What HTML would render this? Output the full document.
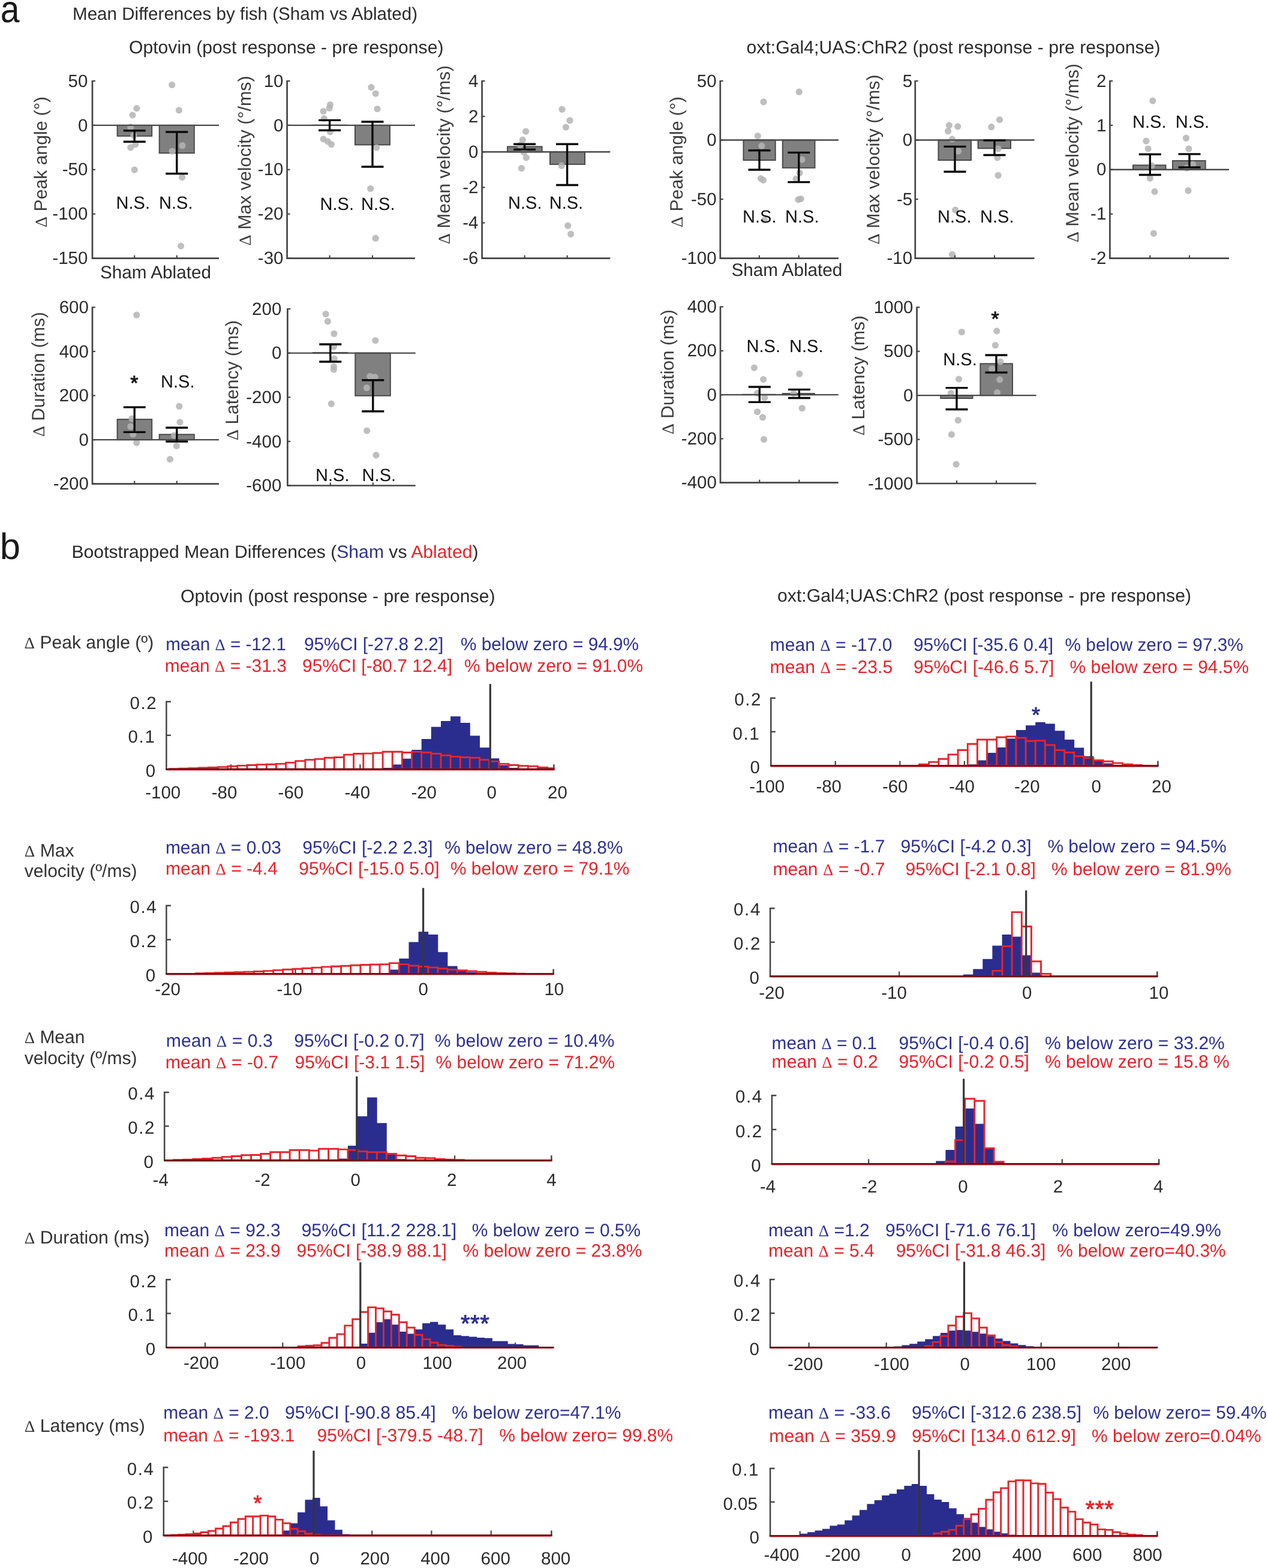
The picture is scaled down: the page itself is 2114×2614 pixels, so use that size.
<!DOCTYPE html>
<html lang="en">
<head>
<meta charset="utf-8">
<title>Mean differences by fish and bootstrapped mean differences (Sham vs Ablated)</title>
<style>
html,body{margin:0;padding:0;background:#fff;}
body{width:2114px;height:2614px;overflow:hidden;}
svg{display:block;}
</style>
</head>
<body>
<svg width="2114" height="2614" viewBox="0 0 2114 2614" font-family='"Liberation Sans", Arial, Helvetica, sans-serif' text-rendering="geometricPrecision">
<rect width="2114" height="2614" fill="#ffffff"/>
<g>
<text x="0.8" y="36.9" font-size="63" fill="#1a1a1a" textLength="31.8" lengthAdjust="spacingAndGlyphs">a</text>
<text x="121.0" y="33.0" font-size="29.6" fill="#2b2b2b" textLength="575.0" lengthAdjust="spacingAndGlyphs">Mean Differences by fish (Sham vs Ablated)</text>
<text x="215.0" y="88.7" font-size="30" fill="#2b2b2b" textLength="524.5" lengthAdjust="spacingAndGlyphs">Optovin (post response - pre response)</text>
<text x="1244.5" y="88.7" font-size="30" fill="#2b2b2b" textLength="690.0" lengthAdjust="spacingAndGlyphs">oxt:Gal4;UAS:ChR2 (post response - pre response)</text>
<text x="-0.3" y="931.8" font-size="61.5" fill="#1a1a1a">b</text>
<text x="119.5" y="929.5" font-size="29.6" fill="#2b2b2b" textLength="678.0" lengthAdjust="spacingAndGlyphs">Bootstrapped Mean Differences (<tspan fill="#2e3192">Sham</tspan> vs <tspan fill="#e8232b">Ablated</tspan>)</text>
<text x="301.0" y="1003.5" font-size="30" fill="#2b2b2b" textLength="524.5" lengthAdjust="spacingAndGlyphs">Optovin (post response - pre response)</text>
<text x="1296.0" y="1002.5" font-size="30" fill="#2b2b2b" textLength="690.0" lengthAdjust="spacingAndGlyphs">oxt:Gal4;UAS:ChR2 (post response - pre response)</text>
<g>
<rect x="195.6" y="208.9" width="57.6" height="17.9" fill="#808080" stroke="#4a4a4a" stroke-width="2"/>
<rect x="265.7" y="208.9" width="58.1" height="46.3" fill="#808080" stroke="#4a4a4a" stroke-width="2"/>
<g fill="#b4b4b4" fill-opacity="0.86"><circle cx="227.8" cy="180.6" r="5.6"/><circle cx="221.0" cy="191.9" r="5.6"/><circle cx="217.7" cy="211.7" r="5.6"/><circle cx="223.0" cy="225.8" r="5.6"/><circle cx="225.8" cy="240.7" r="5.6"/><circle cx="217.7" cy="246.0" r="5.6"/><circle cx="224.2" cy="283.1" r="5.6"/><circle cx="286.7" cy="141.5" r="5.6"/><circle cx="298.4" cy="183.9" r="5.6"/><circle cx="304.0" cy="242.7" r="5.6"/><circle cx="287.1" cy="252.0" r="5.6"/><circle cx="303.6" cy="295.6" r="5.6"/><circle cx="301.6" cy="410.1" r="5.6"/></g>
<line x1="154.4" y1="208.9" x2="365.0" y2="208.9" stroke="#4a4a4a" stroke-width="2.4" stroke-linecap="butt"/>
<path d="M154.0 134.0V430.6H365.0" fill="none" stroke="#454545" stroke-width="2.7"/>
<line x1="154.4" y1="135.0" x2="158.9" y2="135.0" stroke="#454545" stroke-width="2.2" stroke-linecap="butt"/>
<text x="146.4" y="144.6" font-size="29.5" fill="#2b2b2b" text-anchor="end">50</text>
<line x1="154.4" y1="208.9" x2="158.9" y2="208.9" stroke="#454545" stroke-width="2.2" stroke-linecap="butt"/>
<text x="146.4" y="218.5" font-size="29.5" fill="#2b2b2b" text-anchor="end">0</text>
<line x1="154.4" y1="282.8" x2="158.9" y2="282.8" stroke="#454545" stroke-width="2.2" stroke-linecap="butt"/>
<text x="146.4" y="292.4" font-size="29.5" fill="#2b2b2b" text-anchor="end">-50</text>
<line x1="154.4" y1="356.7" x2="158.9" y2="356.7" stroke="#454545" stroke-width="2.2" stroke-linecap="butt"/>
<text x="146.4" y="366.3" font-size="29.5" fill="#2b2b2b" text-anchor="end">-100</text>
<line x1="154.4" y1="430.6" x2="158.9" y2="430.6" stroke="#454545" stroke-width="2.2" stroke-linecap="butt"/>
<text x="146.4" y="440.2" font-size="29.5" fill="#2b2b2b" text-anchor="end">-150</text>
<line x1="224.2" y1="430.6" x2="224.2" y2="425.6" stroke="#454545" stroke-width="2.2" stroke-linecap="butt"/>
<line x1="294.8" y1="430.6" x2="294.8" y2="425.6" stroke="#454545" stroke-width="2.2" stroke-linecap="butt"/>
<path d="M205.7 217.7H242.7M205.7 236.3H242.7M224.2 217.7V236.3" fill="none" stroke="#0a0a0a" stroke-width="3.4"/>
<path d="M276.3 220.0H313.3M276.3 289.5H313.3M294.8 220.0V289.5" fill="none" stroke="#0a0a0a" stroke-width="3.4"/>
<text x="193.5" y="347.6" font-size="29.5" fill="#111" textLength="56.5" lengthAdjust="spacingAndGlyphs">N.S.</text>
<text x="265.0" y="347.6" font-size="29.5" fill="#111" textLength="56.5" lengthAdjust="spacingAndGlyphs">N.S.</text>
<text x="78.0" y="270.0" font-size="30" fill="#3c3c3c" text-anchor="middle" textLength="218.0" lengthAdjust="spacingAndGlyphs" transform="rotate(-90 78.0 270.0)"><tspan font-family='"Liberation Serif", "DejaVu Serif", serif' font-size="28">&#916;</tspan> Peak angle (°)</text>
<text x="167.0" y="463.7" font-size="29.7" fill="#2b2b2b" textLength="185.0" lengthAdjust="spacingAndGlyphs">Sham Ablated</text>
</g>
<g>
<rect x="520.0" y="208.7" width="58.6" height="0.2" fill="#808080" stroke="#4a4a4a" stroke-width="2"/>
<rect x="592.0" y="208.9" width="58.0" height="32.5" fill="#808080" stroke="#4a4a4a" stroke-width="2"/>
<g fill="#b4b4b4" fill-opacity="0.86"><circle cx="550.4" cy="174.6" r="5.6"/><circle cx="549.2" cy="180.2" r="5.6"/><circle cx="539.1" cy="185.5" r="5.6"/><circle cx="540.3" cy="197.6" r="5.6"/><circle cx="539.1" cy="231.9" r="5.6"/><circle cx="546.4" cy="235.9" r="5.6"/><circle cx="552.4" cy="240.7" r="5.6"/><circle cx="550.4" cy="219.8" r="5.6"/><circle cx="619.0" cy="145.6" r="5.6"/><circle cx="626.2" cy="156.0" r="5.6"/><circle cx="629.0" cy="181.5" r="5.6"/><circle cx="627.8" cy="246.0" r="5.6"/><circle cx="617.7" cy="314.5" r="5.6"/><circle cx="626.2" cy="397.2" r="5.6"/></g>
<line x1="479.0" y1="208.9" x2="692.0" y2="208.9" stroke="#4a4a4a" stroke-width="2.4" stroke-linecap="butt"/>
<path d="M478.6 134.0V430.6H692.0" fill="none" stroke="#454545" stroke-width="2.7"/>
<line x1="479.0" y1="135.0" x2="483.5" y2="135.0" stroke="#454545" stroke-width="2.2" stroke-linecap="butt"/>
<text x="472.5" y="144.6" font-size="29.5" fill="#2b2b2b" text-anchor="end">10</text>
<line x1="479.0" y1="208.9" x2="483.5" y2="208.9" stroke="#454545" stroke-width="2.2" stroke-linecap="butt"/>
<text x="472.5" y="218.5" font-size="29.5" fill="#2b2b2b" text-anchor="end">0</text>
<line x1="479.0" y1="282.8" x2="483.5" y2="282.8" stroke="#454545" stroke-width="2.2" stroke-linecap="butt"/>
<text x="472.5" y="292.4" font-size="29.5" fill="#2b2b2b" text-anchor="end">-10</text>
<line x1="479.0" y1="356.7" x2="483.5" y2="356.7" stroke="#454545" stroke-width="2.2" stroke-linecap="butt"/>
<text x="472.5" y="366.3" font-size="29.5" fill="#2b2b2b" text-anchor="end">-20</text>
<line x1="479.0" y1="430.6" x2="483.5" y2="430.6" stroke="#454545" stroke-width="2.2" stroke-linecap="butt"/>
<text x="472.5" y="440.2" font-size="29.5" fill="#2b2b2b" text-anchor="end">-30</text>
<line x1="549.6" y1="430.6" x2="549.6" y2="425.6" stroke="#454545" stroke-width="2.2" stroke-linecap="butt"/>
<line x1="621.0" y1="430.6" x2="621.0" y2="425.6" stroke="#454545" stroke-width="2.2" stroke-linecap="butt"/>
<path d="M531.1 200.4H568.1M531.1 217.3H568.1M549.6 200.4V217.3" fill="none" stroke="#0a0a0a" stroke-width="3.4"/>
<path d="M602.5 203.0H639.5M602.5 278.0H639.5M621.0 203.0V278.0" fill="none" stroke="#0a0a0a" stroke-width="3.4"/>
<text x="533.5" y="349.5" font-size="29.5" fill="#111" textLength="56.5" lengthAdjust="spacingAndGlyphs">N.S.</text>
<text x="602.0" y="349.5" font-size="29.5" fill="#111" textLength="56.5" lengthAdjust="spacingAndGlyphs">N.S.</text>
<text x="417.5" y="268.0" font-size="30" fill="#3c3c3c" text-anchor="middle" textLength="283.0" lengthAdjust="spacingAndGlyphs" transform="rotate(-90 417.5 268.0)"><tspan font-family='"Liberation Serif", "DejaVu Serif", serif' font-size="28">&#916;</tspan> Max velocity (°/ms)</text>
</g>
<g>
<rect x="846.0" y="244.4" width="57.6" height="8.9" fill="#808080" stroke="#4a4a4a" stroke-width="2"/>
<rect x="917.0" y="253.2" width="58.0" height="20.7" fill="#808080" stroke="#4a4a4a" stroke-width="2"/>
<g fill="#b4b4b4" fill-opacity="0.86"><circle cx="876.6" cy="219.0" r="5.6"/><circle cx="871.4" cy="233.1" r="5.6"/><circle cx="867.3" cy="241.9" r="5.6"/><circle cx="877.4" cy="262.9" r="5.6"/><circle cx="869.4" cy="280.6" r="5.6"/><circle cx="873.4" cy="254.0" r="5.6"/><circle cx="937.1" cy="182.3" r="5.6"/><circle cx="950.0" cy="200.8" r="5.6"/><circle cx="943.5" cy="212.1" r="5.6"/><circle cx="936.3" cy="276.2" r="5.6"/><circle cx="946.8" cy="376.2" r="5.6"/><circle cx="951.6" cy="390.3" r="5.6"/></g>
<line x1="804.0" y1="253.2" x2="1017.3" y2="253.2" stroke="#4a4a4a" stroke-width="2.4" stroke-linecap="butt"/>
<path d="M803.6 134.0V430.6H1017.3" fill="none" stroke="#454545" stroke-width="2.7"/>
<line x1="804.0" y1="135.0" x2="808.5" y2="135.0" stroke="#454545" stroke-width="2.2" stroke-linecap="butt"/>
<text x="797.5" y="144.6" font-size="29.5" fill="#2b2b2b" text-anchor="end">4</text>
<line x1="804.0" y1="194.1" x2="808.5" y2="194.1" stroke="#454545" stroke-width="2.2" stroke-linecap="butt"/>
<text x="797.5" y="203.7" font-size="29.5" fill="#2b2b2b" text-anchor="end">2</text>
<line x1="804.0" y1="253.2" x2="808.5" y2="253.2" stroke="#454545" stroke-width="2.2" stroke-linecap="butt"/>
<text x="797.5" y="262.8" font-size="29.5" fill="#2b2b2b" text-anchor="end">0</text>
<line x1="804.0" y1="312.4" x2="808.5" y2="312.4" stroke="#454545" stroke-width="2.2" stroke-linecap="butt"/>
<text x="797.5" y="322.0" font-size="29.5" fill="#2b2b2b" text-anchor="end">-2</text>
<line x1="804.0" y1="371.5" x2="808.5" y2="371.5" stroke="#454545" stroke-width="2.2" stroke-linecap="butt"/>
<text x="797.5" y="381.1" font-size="29.5" fill="#2b2b2b" text-anchor="end">-4</text>
<line x1="804.0" y1="430.6" x2="808.5" y2="430.6" stroke="#454545" stroke-width="2.2" stroke-linecap="butt"/>
<text x="797.5" y="440.2" font-size="29.5" fill="#2b2b2b" text-anchor="end">-6</text>
<line x1="874.6" y1="430.6" x2="874.6" y2="425.6" stroke="#454545" stroke-width="2.2" stroke-linecap="butt"/>
<line x1="945.6" y1="430.6" x2="945.6" y2="425.6" stroke="#454545" stroke-width="2.2" stroke-linecap="butt"/>
<path d="M856.1 240.3H893.1M856.1 249.2H893.1M874.6 240.3V249.2" fill="none" stroke="#0a0a0a" stroke-width="3.4"/>
<path d="M927.1 240.3H964.1M927.1 308.5H964.1M945.6 240.3V308.5" fill="none" stroke="#0a0a0a" stroke-width="3.4"/>
<text x="847.0" y="347.6" font-size="29.5" fill="#111" textLength="56.5" lengthAdjust="spacingAndGlyphs">N.S.</text>
<text x="915.7" y="347.6" font-size="29.5" fill="#111" textLength="56.5" lengthAdjust="spacingAndGlyphs">N.S.</text>
<text x="749.5" y="258.0" font-size="30" fill="#3c3c3c" text-anchor="middle" textLength="298.0" lengthAdjust="spacingAndGlyphs" transform="rotate(-90 749.5 258.0)"><tspan font-family='"Liberation Serif", "DejaVu Serif", serif' font-size="28">&#916;</tspan> Mean velocity (°/ms)</text>
</g>
<g>
<rect x="1239.5" y="233.5" width="53.2" height="33.5" fill="#808080" stroke="#4a4a4a" stroke-width="2"/>
<rect x="1304.8" y="233.5" width="53.7" height="46.3" fill="#808080" stroke="#4a4a4a" stroke-width="2"/>
<g fill="#b4b4b4" fill-opacity="0.86"><circle cx="1273.0" cy="169.8" r="5.6"/><circle cx="1263.3" cy="226.6" r="5.6"/><circle cx="1269.8" cy="243.1" r="5.6"/><circle cx="1268.5" cy="297.6" r="5.6"/><circle cx="1272.6" cy="300.4" r="5.6"/><circle cx="1274.6" cy="366.9" r="5.6"/><circle cx="1332.3" cy="153.2" r="5.6"/><circle cx="1337.1" cy="266.1" r="5.6"/><circle cx="1327.0" cy="298.4" r="5.6"/><circle cx="1331.0" cy="332.7" r="5.6"/><circle cx="1335.1" cy="331.5" r="5.6"/><circle cx="1333.1" cy="288.3" r="5.6"/></g>
<line x1="1201.2" y1="233.5" x2="1398.0" y2="233.5" stroke="#4a4a4a" stroke-width="2.4" stroke-linecap="butt"/>
<path d="M1200.8 134.0V430.6H1398.0" fill="none" stroke="#454545" stroke-width="2.7"/>
<line x1="1201.2" y1="135.0" x2="1205.7" y2="135.0" stroke="#454545" stroke-width="2.2" stroke-linecap="butt"/>
<text x="1194.7" y="144.6" font-size="29.5" fill="#2b2b2b" text-anchor="end">50</text>
<line x1="1201.2" y1="233.5" x2="1205.7" y2="233.5" stroke="#454545" stroke-width="2.2" stroke-linecap="butt"/>
<text x="1194.7" y="243.1" font-size="29.5" fill="#2b2b2b" text-anchor="end">0</text>
<line x1="1201.2" y1="332.1" x2="1205.7" y2="332.1" stroke="#454545" stroke-width="2.2" stroke-linecap="butt"/>
<text x="1194.7" y="341.7" font-size="29.5" fill="#2b2b2b" text-anchor="end">-50</text>
<line x1="1201.2" y1="430.6" x2="1205.7" y2="430.6" stroke="#454545" stroke-width="2.2" stroke-linecap="butt"/>
<text x="1194.7" y="440.2" font-size="29.5" fill="#2b2b2b" text-anchor="end">-100</text>
<line x1="1266.0" y1="430.6" x2="1266.0" y2="425.6" stroke="#454545" stroke-width="2.2" stroke-linecap="butt"/>
<line x1="1331.8" y1="430.6" x2="1331.8" y2="425.6" stroke="#454545" stroke-width="2.2" stroke-linecap="butt"/>
<path d="M1247.5 250.8H1284.5M1247.5 283.0H1284.5M1266.0 250.8V283.0" fill="none" stroke="#0a0a0a" stroke-width="3.4"/>
<path d="M1313.3 254.4H1350.3M1313.3 303.6H1350.3M1331.8 254.4V303.6" fill="none" stroke="#0a0a0a" stroke-width="3.4"/>
<text x="1238.0" y="371.0" font-size="29.5" fill="#111" textLength="56.5" lengthAdjust="spacingAndGlyphs">N.S.</text>
<text x="1309.0" y="371.0" font-size="29.5" fill="#111" textLength="56.5" lengthAdjust="spacingAndGlyphs">N.S.</text>
<text x="1137.5" y="270.0" font-size="30" fill="#3c3c3c" text-anchor="middle" textLength="218.0" lengthAdjust="spacingAndGlyphs" transform="rotate(-90 1137.5 270.0)"><tspan font-family='"Liberation Serif", "DejaVu Serif", serif' font-size="28">&#916;</tspan> Peak angle (°)</text>
<text x="1219.4" y="459.7" font-size="29.7" fill="#2b2b2b" textLength="185.0" lengthAdjust="spacingAndGlyphs">Sham Ablated</text>
</g>
<g>
<rect x="1564.5" y="233.5" width="54.5" height="33.5" fill="#808080" stroke="#4a4a4a" stroke-width="2"/>
<rect x="1630.6" y="233.5" width="54.4" height="13.8" fill="#808080" stroke="#4a4a4a" stroke-width="2"/>
<g fill="#b4b4b4" fill-opacity="0.86"><circle cx="1582.3" cy="208.9" r="5.6"/><circle cx="1596.8" cy="210.9" r="5.6"/><circle cx="1580.6" cy="218.5" r="5.6"/><circle cx="1587.5" cy="231.9" r="5.6"/><circle cx="1597.6" cy="252.0" r="5.6"/><circle cx="1592.7" cy="350.0" r="5.6"/><circle cx="1587.5" cy="424.2" r="5.6"/><circle cx="1666.5" cy="199.6" r="5.6"/><circle cx="1652.8" cy="211.7" r="5.6"/><circle cx="1664.1" cy="248.0" r="5.6"/><circle cx="1662.9" cy="262.9" r="5.6"/><circle cx="1664.1" cy="292.3" r="5.6"/></g>
<line x1="1526.2" y1="233.5" x2="1724.6" y2="233.5" stroke="#4a4a4a" stroke-width="2.4" stroke-linecap="butt"/>
<path d="M1525.8 134.0V430.6H1724.6" fill="none" stroke="#454545" stroke-width="2.7"/>
<line x1="1526.2" y1="135.0" x2="1530.7" y2="135.0" stroke="#454545" stroke-width="2.2" stroke-linecap="butt"/>
<text x="1521.2" y="144.6" font-size="29.5" fill="#2b2b2b" text-anchor="end">5</text>
<line x1="1526.2" y1="233.5" x2="1530.7" y2="233.5" stroke="#454545" stroke-width="2.2" stroke-linecap="butt"/>
<text x="1521.2" y="243.1" font-size="29.5" fill="#2b2b2b" text-anchor="end">0</text>
<line x1="1526.2" y1="332.1" x2="1530.7" y2="332.1" stroke="#454545" stroke-width="2.2" stroke-linecap="butt"/>
<text x="1521.2" y="341.7" font-size="29.5" fill="#2b2b2b" text-anchor="end">-5</text>
<line x1="1526.2" y1="430.6" x2="1530.7" y2="430.6" stroke="#454545" stroke-width="2.2" stroke-linecap="butt"/>
<text x="1521.2" y="440.2" font-size="29.5" fill="#2b2b2b" text-anchor="end">-10</text>
<line x1="1592.0" y1="430.6" x2="1592.0" y2="425.6" stroke="#454545" stroke-width="2.2" stroke-linecap="butt"/>
<line x1="1658.0" y1="430.6" x2="1658.0" y2="425.6" stroke="#454545" stroke-width="2.2" stroke-linecap="butt"/>
<path d="M1573.5 244.4H1610.5M1573.5 286.3H1610.5M1592.0 244.4V286.3" fill="none" stroke="#0a0a0a" stroke-width="3.4"/>
<path d="M1639.5 234.0H1676.5M1639.5 258.5H1676.5M1658.0 234.0V258.5" fill="none" stroke="#0a0a0a" stroke-width="3.4"/>
<text x="1563.0" y="371.0" font-size="29.5" fill="#111" textLength="56.5" lengthAdjust="spacingAndGlyphs">N.S.</text>
<text x="1634.0" y="371.0" font-size="29.5" fill="#111" textLength="56.5" lengthAdjust="spacingAndGlyphs">N.S.</text>
<text x="1465.5" y="266.0" font-size="30" fill="#3c3c3c" text-anchor="middle" textLength="283.0" lengthAdjust="spacingAndGlyphs" transform="rotate(-90 1465.5 266.0)"><tspan font-family='"Liberation Serif", "DejaVu Serif", serif' font-size="28">&#916;</tspan> Max velocity (°/ms)</text>
</g>
<g>
<rect x="1889.0" y="275.4" width="54.5" height="7.4" fill="#808080" stroke="#4a4a4a" stroke-width="2"/>
<rect x="1955.0" y="268.0" width="54.7" height="14.8" fill="#808080" stroke="#4a4a4a" stroke-width="2"/>
<g fill="#b4b4b4" fill-opacity="0.86"><circle cx="1921.8" cy="168.1" r="5.6"/><circle cx="1910.9" cy="235.1" r="5.6"/><circle cx="1914.1" cy="248.0" r="5.6"/><circle cx="1920.2" cy="276.2" r="5.6"/><circle cx="1917.3" cy="297.2" r="5.6"/><circle cx="1925.0" cy="319.4" r="5.6"/><circle cx="1923.4" cy="389.1" r="5.6"/><circle cx="1977.4" cy="230.2" r="5.6"/><circle cx="1981.9" cy="248.0" r="5.6"/><circle cx="1988.7" cy="274.2" r="5.6"/><circle cx="1978.6" cy="280.2" r="5.6"/><circle cx="1981.0" cy="317.7" r="5.6"/></g>
<line x1="1850.8" y1="282.8" x2="2049.0" y2="282.8" stroke="#4a4a4a" stroke-width="2.4" stroke-linecap="butt"/>
<path d="M1850.4 134.0V430.6H2049.0" fill="none" stroke="#454545" stroke-width="2.7"/>
<line x1="1850.8" y1="135.0" x2="1855.3" y2="135.0" stroke="#454545" stroke-width="2.2" stroke-linecap="butt"/>
<text x="1844.3" y="144.6" font-size="29.5" fill="#2b2b2b" text-anchor="end">2</text>
<line x1="1850.8" y1="208.9" x2="1855.3" y2="208.9" stroke="#454545" stroke-width="2.2" stroke-linecap="butt"/>
<text x="1844.3" y="218.5" font-size="29.5" fill="#2b2b2b" text-anchor="end">1</text>
<line x1="1850.8" y1="282.8" x2="1855.3" y2="282.8" stroke="#454545" stroke-width="2.2" stroke-linecap="butt"/>
<text x="1844.3" y="292.4" font-size="29.5" fill="#2b2b2b" text-anchor="end">0</text>
<line x1="1850.8" y1="356.7" x2="1855.3" y2="356.7" stroke="#454545" stroke-width="2.2" stroke-linecap="butt"/>
<text x="1844.3" y="366.3" font-size="29.5" fill="#2b2b2b" text-anchor="end">-1</text>
<line x1="1850.8" y1="430.6" x2="1855.3" y2="430.6" stroke="#454545" stroke-width="2.2" stroke-linecap="butt"/>
<text x="1844.3" y="440.2" font-size="29.5" fill="#2b2b2b" text-anchor="end">-2</text>
<line x1="1917.3" y1="430.6" x2="1917.3" y2="425.6" stroke="#454545" stroke-width="2.2" stroke-linecap="butt"/>
<line x1="1983.0" y1="430.6" x2="1983.0" y2="425.6" stroke="#454545" stroke-width="2.2" stroke-linecap="butt"/>
<path d="M1898.8 257.3H1935.8M1898.8 291.5H1935.8M1917.3 257.3V291.5" fill="none" stroke="#0a0a0a" stroke-width="3.4"/>
<path d="M1964.5 256.9H2001.5M1964.5 279.0H2001.5M1983.0 256.9V279.0" fill="none" stroke="#0a0a0a" stroke-width="3.4"/>
<text x="1888.0" y="213.0" font-size="29.5" fill="#111" textLength="56.5" lengthAdjust="spacingAndGlyphs">N.S.</text>
<text x="1959.7" y="213.0" font-size="29.5" fill="#111" textLength="56.5" lengthAdjust="spacingAndGlyphs">N.S.</text>
<text x="1797.5" y="255.0" font-size="30" fill="#3c3c3c" text-anchor="middle" textLength="298.0" lengthAdjust="spacingAndGlyphs" transform="rotate(-90 1797.5 255.0)"><tspan font-family='"Liberation Serif", "DejaVu Serif", serif' font-size="28">&#916;</tspan> Mean velocity (°/ms)</text>
</g>
<g>
<rect x="195.6" y="699.1" width="57.6" height="34.0" fill="#808080" stroke="#4a4a4a" stroke-width="2"/>
<rect x="265.7" y="724.3" width="58.1" height="8.8" fill="#808080" stroke="#4a4a4a" stroke-width="2"/>
<g fill="#b4b4b4" fill-opacity="0.86"><circle cx="227.8" cy="525.2" r="5.6"/><circle cx="219.8" cy="697.8" r="5.6"/><circle cx="217.7" cy="711.1" r="5.6"/><circle cx="221.8" cy="724.0" r="5.6"/><circle cx="227.8" cy="738.1" r="5.6"/><circle cx="298.8" cy="677.3" r="5.6"/><circle cx="300.0" cy="703.9" r="5.6"/><circle cx="290.3" cy="726.0" r="5.6"/><circle cx="294.4" cy="743.4" r="5.6"/><circle cx="283.5" cy="765.6" r="5.6"/></g>
<line x1="154.4" y1="733.1" x2="365.0" y2="733.1" stroke="#4a4a4a" stroke-width="2.4" stroke-linecap="butt"/>
<path d="M154.0 511.3V806.7H365.0" fill="none" stroke="#454545" stroke-width="2.7"/>
<line x1="154.4" y1="512.3" x2="158.9" y2="512.3" stroke="#454545" stroke-width="2.2" stroke-linecap="butt"/>
<text x="147.9" y="521.9" font-size="29.5" fill="#2b2b2b" text-anchor="end">600</text>
<line x1="154.4" y1="585.9" x2="158.9" y2="585.9" stroke="#454545" stroke-width="2.2" stroke-linecap="butt"/>
<text x="147.9" y="595.5" font-size="29.5" fill="#2b2b2b" text-anchor="end">400</text>
<line x1="154.4" y1="659.5" x2="158.9" y2="659.5" stroke="#454545" stroke-width="2.2" stroke-linecap="butt"/>
<text x="147.9" y="669.1" font-size="29.5" fill="#2b2b2b" text-anchor="end">200</text>
<line x1="154.4" y1="733.1" x2="158.9" y2="733.1" stroke="#454545" stroke-width="2.2" stroke-linecap="butt"/>
<text x="147.9" y="742.7" font-size="29.5" fill="#2b2b2b" text-anchor="end">0</text>
<line x1="154.4" y1="806.7" x2="158.9" y2="806.7" stroke="#454545" stroke-width="2.2" stroke-linecap="butt"/>
<text x="147.9" y="816.3" font-size="29.5" fill="#2b2b2b" text-anchor="end">-200</text>
<line x1="224.2" y1="806.7" x2="224.2" y2="801.7" stroke="#454545" stroke-width="2.2" stroke-linecap="butt"/>
<line x1="294.8" y1="806.7" x2="294.8" y2="801.7" stroke="#454545" stroke-width="2.2" stroke-linecap="butt"/>
<path d="M205.7 678.9H242.7M205.7 720.4H242.7M224.2 678.9V720.4" fill="none" stroke="#0a0a0a" stroke-width="3.4"/>
<path d="M276.3 713.0H313.3M276.3 736.0H313.3M294.8 713.0V736.0" fill="none" stroke="#0a0a0a" stroke-width="3.4"/>
<text x="223.8" y="650.0" font-size="34" fill="#111" text-anchor="middle" stroke="#111" stroke-width="0.9">*</text>
<text x="268.0" y="645.8" font-size="29.5" fill="#111" textLength="56.5" lengthAdjust="spacingAndGlyphs">N.S.</text>
<text x="73.5" y="624.0" font-size="30" fill="#3c3c3c" text-anchor="middle" textLength="208.0" lengthAdjust="spacingAndGlyphs" transform="rotate(-90 73.5 624.0)"><tspan font-family='"Liberation Serif", "DejaVu Serif", serif' font-size="28">&#916;</tspan> Duration (ms)</text>
</g>
<g>
<rect x="522.0" y="587.9" width="57.4" height="0.7" fill="#808080" stroke="#4a4a4a" stroke-width="2"/>
<rect x="592.3" y="588.6" width="58.5" height="71.1" fill="#808080" stroke="#4a4a4a" stroke-width="2"/>
<g fill="#b4b4b4" fill-opacity="0.86"><circle cx="543.1" cy="523.6" r="5.6"/><circle cx="546.4" cy="535.7" r="5.6"/><circle cx="556.9" cy="556.3" r="5.6"/><circle cx="556.5" cy="578.1" r="5.6"/><circle cx="557.3" cy="598.2" r="5.6"/><circle cx="556.5" cy="611.1" r="5.6"/><circle cx="556.5" cy="616.0" r="5.6"/><circle cx="552.4" cy="673.2" r="5.6"/><circle cx="625.8" cy="567.6" r="5.6"/><circle cx="616.9" cy="627.3" r="5.6"/><circle cx="625.0" cy="628.5" r="5.6"/><circle cx="611.3" cy="646.6" r="5.6"/><circle cx="611.7" cy="718.0" r="5.6"/><circle cx="627.0" cy="758.7" r="5.6"/></g>
<line x1="479.8" y1="588.6" x2="692.7" y2="588.6" stroke="#4a4a4a" stroke-width="2.4" stroke-linecap="butt"/>
<path d="M479.4 514.0V809.5H692.7" fill="none" stroke="#454545" stroke-width="2.7"/>
<line x1="479.8" y1="515.0" x2="484.3" y2="515.0" stroke="#454545" stroke-width="2.2" stroke-linecap="butt"/>
<text x="469.3" y="524.6" font-size="29.5" fill="#2b2b2b" text-anchor="end">200</text>
<line x1="479.8" y1="588.6" x2="484.3" y2="588.6" stroke="#454545" stroke-width="2.2" stroke-linecap="butt"/>
<text x="469.3" y="598.2" font-size="29.5" fill="#2b2b2b" text-anchor="end">0</text>
<line x1="479.8" y1="662.2" x2="484.3" y2="662.2" stroke="#454545" stroke-width="2.2" stroke-linecap="butt"/>
<text x="469.3" y="671.9" font-size="29.5" fill="#2b2b2b" text-anchor="end">-200</text>
<line x1="479.8" y1="735.9" x2="484.3" y2="735.9" stroke="#454545" stroke-width="2.2" stroke-linecap="butt"/>
<text x="469.3" y="745.5" font-size="29.5" fill="#2b2b2b" text-anchor="end">-400</text>
<line x1="479.8" y1="809.5" x2="484.3" y2="809.5" stroke="#454545" stroke-width="2.2" stroke-linecap="butt"/>
<text x="469.3" y="819.1" font-size="29.5" fill="#2b2b2b" text-anchor="end">-600</text>
<line x1="550.8" y1="809.5" x2="550.8" y2="804.5" stroke="#454545" stroke-width="2.2" stroke-linecap="butt"/>
<line x1="621.8" y1="809.5" x2="621.8" y2="804.5" stroke="#454545" stroke-width="2.2" stroke-linecap="butt"/>
<path d="M532.3 574.0H569.3M532.3 603.0H569.3M550.8 574.0V603.0" fill="none" stroke="#0a0a0a" stroke-width="3.4"/>
<path d="M603.3 633.7H640.3M603.3 685.7H640.3M621.8 633.7V685.7" fill="none" stroke="#0a0a0a" stroke-width="3.4"/>
<text x="526.0" y="801.5" font-size="29.5" fill="#111" textLength="56.5" lengthAdjust="spacingAndGlyphs">N.S.</text>
<text x="603.6" y="801.5" font-size="29.5" fill="#111" textLength="56.5" lengthAdjust="spacingAndGlyphs">N.S.</text>
<text x="396.5" y="634.0" font-size="30" fill="#3c3c3c" text-anchor="middle" textLength="200.0" lengthAdjust="spacingAndGlyphs" transform="rotate(-90 396.5 634.0)"><tspan font-family='"Liberation Serif", "DejaVu Serif", serif' font-size="28">&#916;</tspan> Latency (ms)</text>
</g>
<g>
<rect x="1237.6" y="657.7" width="55.4" height="0.4" fill="#808080" stroke="#4a4a4a" stroke-width="2"/>
<rect x="1304.6" y="656.1" width="53.4" height="2.0" fill="#808080" stroke="#4a4a4a" stroke-width="2"/>
<g fill="#b4b4b4" fill-opacity="0.86"><circle cx="1257.4" cy="613.1" r="5.6"/><circle cx="1272.7" cy="632.5" r="5.6"/><circle cx="1262.6" cy="655.5" r="5.6"/><circle cx="1274.7" cy="662.7" r="5.6"/><circle cx="1262.6" cy="686.5" r="5.6"/><circle cx="1271.5" cy="695.8" r="5.6"/><circle cx="1273.5" cy="732.5" r="5.6"/><circle cx="1332.8" cy="623.2" r="5.6"/><circle cx="1323.1" cy="655.5" r="5.6"/><circle cx="1337.2" cy="680.5" r="5.6"/></g>
<line x1="1201.4" y1="658.1" x2="1397.7" y2="658.1" stroke="#4a4a4a" stroke-width="2.4" stroke-linecap="butt"/>
<path d="M1201.0 510.5V804.7H1397.7" fill="none" stroke="#454545" stroke-width="2.7"/>
<line x1="1201.4" y1="511.5" x2="1205.9" y2="511.5" stroke="#454545" stroke-width="2.2" stroke-linecap="butt"/>
<text x="1194.9" y="521.1" font-size="29.5" fill="#2b2b2b" text-anchor="end">400</text>
<line x1="1201.4" y1="584.8" x2="1205.9" y2="584.8" stroke="#454545" stroke-width="2.2" stroke-linecap="butt"/>
<text x="1194.9" y="594.4" font-size="29.5" fill="#2b2b2b" text-anchor="end">200</text>
<line x1="1201.4" y1="658.1" x2="1205.9" y2="658.1" stroke="#454545" stroke-width="2.2" stroke-linecap="butt"/>
<text x="1194.9" y="667.7" font-size="29.5" fill="#2b2b2b" text-anchor="end">0</text>
<line x1="1201.4" y1="731.4" x2="1205.9" y2="731.4" stroke="#454545" stroke-width="2.2" stroke-linecap="butt"/>
<text x="1194.9" y="741.0" font-size="29.5" fill="#2b2b2b" text-anchor="end">-200</text>
<line x1="1201.4" y1="804.7" x2="1205.9" y2="804.7" stroke="#454545" stroke-width="2.2" stroke-linecap="butt"/>
<text x="1194.9" y="814.3" font-size="29.5" fill="#2b2b2b" text-anchor="end">-400</text>
<line x1="1266.3" y1="804.7" x2="1266.3" y2="799.7" stroke="#454545" stroke-width="2.2" stroke-linecap="butt"/>
<line x1="1332.4" y1="804.7" x2="1332.4" y2="799.7" stroke="#454545" stroke-width="2.2" stroke-linecap="butt"/>
<path d="M1247.8 645.0H1284.8M1247.8 670.4H1284.8M1266.3 645.0V670.4" fill="none" stroke="#0a0a0a" stroke-width="3.4"/>
<path d="M1313.9 649.4H1350.9M1313.9 663.5H1350.9M1332.4 649.4V663.5" fill="none" stroke="#0a0a0a" stroke-width="3.4"/>
<text x="1244.5" y="587.0" font-size="29.5" fill="#111" textLength="56.5" lengthAdjust="spacingAndGlyphs">N.S.</text>
<text x="1316.0" y="587.0" font-size="29.5" fill="#111" textLength="56.5" lengthAdjust="spacingAndGlyphs">N.S.</text>
<text x="1122.5" y="620.0" font-size="30" fill="#3c3c3c" text-anchor="middle" textLength="208.0" lengthAdjust="spacingAndGlyphs" transform="rotate(-90 1122.5 620.0)"><tspan font-family='"Liberation Serif", "DejaVu Serif", serif' font-size="28">&#916;</tspan> Duration (ms)</text>
</g>
<g>
<rect x="1568.3" y="659.1" width="53.2" height="4.9" fill="#808080" stroke="#4a4a4a" stroke-width="2"/>
<rect x="1634.4" y="606.3" width="53.6" height="52.9" fill="#808080" stroke="#4a4a4a" stroke-width="2"/>
<g fill="#b4b4b4" fill-opacity="0.86"><circle cx="1603.4" cy="553.5" r="5.6"/><circle cx="1598.5" cy="632.1" r="5.6"/><circle cx="1585.2" cy="655.5" r="5.6"/><circle cx="1597.3" cy="700.6" r="5.6"/><circle cx="1586.4" cy="724.4" r="5.6"/><circle cx="1594.1" cy="774.0" r="5.6"/><circle cx="1661.8" cy="551.9" r="5.6"/><circle cx="1659.4" cy="575.6" r="5.6"/><circle cx="1667.9" cy="603.1" r="5.6"/><circle cx="1653.8" cy="615.2" r="5.6"/><circle cx="1666.7" cy="632.9" r="5.6"/><circle cx="1662.6" cy="654.7" r="5.6"/></g>
<line x1="1529.0" y1="659.1" x2="1727.6" y2="659.1" stroke="#4a4a4a" stroke-width="2.4" stroke-linecap="butt"/>
<path d="M1528.6 511.3V806.0H1727.6" fill="none" stroke="#454545" stroke-width="2.7"/>
<line x1="1529.0" y1="512.3" x2="1533.5" y2="512.3" stroke="#454545" stroke-width="2.2" stroke-linecap="butt"/>
<text x="1522.5" y="521.9" font-size="29.5" fill="#2b2b2b" text-anchor="end">1000</text>
<line x1="1529.0" y1="585.7" x2="1533.5" y2="585.7" stroke="#454545" stroke-width="2.2" stroke-linecap="butt"/>
<text x="1522.5" y="595.3" font-size="29.5" fill="#2b2b2b" text-anchor="end">500</text>
<line x1="1529.0" y1="659.1" x2="1533.5" y2="659.1" stroke="#454545" stroke-width="2.2" stroke-linecap="butt"/>
<text x="1522.5" y="668.8" font-size="29.5" fill="#2b2b2b" text-anchor="end">0</text>
<line x1="1529.0" y1="732.6" x2="1533.5" y2="732.6" stroke="#454545" stroke-width="2.2" stroke-linecap="butt"/>
<text x="1522.5" y="742.2" font-size="29.5" fill="#2b2b2b" text-anchor="end">-500</text>
<line x1="1529.0" y1="806.0" x2="1533.5" y2="806.0" stroke="#454545" stroke-width="2.2" stroke-linecap="butt"/>
<text x="1522.5" y="815.6" font-size="29.5" fill="#2b2b2b" text-anchor="end">-1000</text>
<line x1="1595.0" y1="806.0" x2="1595.0" y2="801.0" stroke="#454545" stroke-width="2.2" stroke-linecap="butt"/>
<line x1="1661.0" y1="806.0" x2="1661.0" y2="801.0" stroke="#454545" stroke-width="2.2" stroke-linecap="butt"/>
<path d="M1576.5 646.6H1613.5M1576.5 682.5H1613.5M1595.0 646.6V682.5" fill="none" stroke="#0a0a0a" stroke-width="3.4"/>
<path d="M1642.5 592.0H1679.5M1642.5 621.0H1679.5M1661.0 592.0V621.0" fill="none" stroke="#0a0a0a" stroke-width="3.4"/>
<text x="1659.0" y="543.0" font-size="34" fill="#111" text-anchor="middle" stroke="#111" stroke-width="0.9">*</text>
<text x="1572.3" y="609.0" font-size="29.5" fill="#111" textLength="56.5" lengthAdjust="spacingAndGlyphs">N.S.</text>
<text x="1440.5" y="626.0" font-size="30" fill="#3c3c3c" text-anchor="middle" textLength="200.0" lengthAdjust="spacingAndGlyphs" transform="rotate(-90 1440.5 626.0)"><tspan font-family='"Liberation Serif", "DejaVu Serif", serif' font-size="28">&#916;</tspan> Latency (ms)</text>
</g>
<g>
<path d="M284.9 1169.8H277.4V1282.3H923.4V1274.3" fill="none" stroke="#454545" stroke-width="2.5"/>
<text x="216.4" y="1182.0" font-size="29.5" fill="#2b2b2b" letter-spacing="1.6">0.2</text>
<line x1="277.4" y1="1225.8" x2="284.9" y2="1225.8" stroke="#454545" stroke-width="2.4" stroke-linecap="butt"/>
<text x="213.6" y="1238.4" font-size="29.5" fill="#2b2b2b" letter-spacing="1.6">0.1</text>
<text x="242.7" y="1294.9" font-size="29.5" fill="#2b2b2b">0</text>
<line x1="385.1" y1="1282.3" x2="385.1" y2="1274.3" stroke="#454545" stroke-width="2.2" stroke-linecap="butt"/>
<line x1="492.7" y1="1282.3" x2="492.7" y2="1274.3" stroke="#454545" stroke-width="2.2" stroke-linecap="butt"/>
<line x1="600.4" y1="1282.3" x2="600.4" y2="1274.3" stroke="#454545" stroke-width="2.2" stroke-linecap="butt"/>
<line x1="708.1" y1="1282.3" x2="708.1" y2="1274.3" stroke="#454545" stroke-width="2.2" stroke-linecap="butt"/>
<line x1="815.7" y1="1282.3" x2="815.7" y2="1274.3" stroke="#454545" stroke-width="2.2" stroke-linecap="butt"/>
<text x="271.7" y="1331.1" font-size="29.5" fill="#2b2b2b" text-anchor="middle">-100</text>
<text x="374.0" y="1331.1" font-size="29.5" fill="#2b2b2b" text-anchor="middle">-80</text>
<text x="484.9" y="1331.1" font-size="29.5" fill="#2b2b2b" text-anchor="middle">-60</text>
<text x="595.8" y="1331.1" font-size="29.5" fill="#2b2b2b" text-anchor="middle">-40</text>
<text x="706.7" y="1331.1" font-size="29.5" fill="#2b2b2b" text-anchor="middle">-20</text>
<text x="819.8" y="1331.1" font-size="29.5" fill="#2b2b2b" text-anchor="middle">0</text>
<text x="929.4" y="1331.1" font-size="29.5" fill="#2b2b2b" text-anchor="middle">20</text>
<path d="M638.1 1282.3V1280.0H654.6V1282.3ZM654.2 1282.3V1274.4H670.8V1282.3ZM670.4 1282.3V1264.8H686.9V1282.3ZM686.5 1282.3V1250.1H703.1V1282.3ZM702.7 1282.3V1232.1H719.2V1282.3ZM718.8 1282.3V1211.7H735.4V1282.3ZM735.0 1282.3V1202.1H751.5V1282.3ZM751.1 1282.3V1194.2H767.7V1282.3ZM767.3 1282.3V1205.0H783.8V1282.3ZM783.4 1282.3V1226.4H800.0V1282.3ZM799.6 1282.3V1246.2H816.1V1282.3ZM815.7 1282.3V1264.2H832.3V1282.3ZM831.9 1282.3V1275.5H848.4V1282.3ZM848.0 1282.3V1280.0H864.6V1282.3Z" fill="#2b2d8e"/>
<line x1="277.4" y1="1282.7" x2="923.4" y2="1282.7" stroke="#e8232b" stroke-width="3.4"/>
<path d="M282.8 1282.3V1281.7H298.9V1282.3ZM298.9 1282.3V1281.2H315.1V1282.3ZM315.1 1282.3V1280.6H331.2V1282.3ZM331.2 1282.3V1280.0H347.4V1282.3ZM347.4 1282.3V1279.5H363.5V1282.3ZM363.5 1282.3V1278.6H379.7V1282.3ZM379.7 1282.3V1277.4H395.8V1282.3ZM395.8 1282.3V1276.4H412.0V1282.3ZM412.0 1282.3V1275.5H428.1V1282.3ZM428.1 1282.3V1274.6H444.3V1282.3ZM444.3 1282.3V1274.2H460.4V1282.3ZM460.4 1282.3V1273.4H476.6V1282.3ZM476.6 1282.3V1271.4H492.7V1282.3ZM492.7 1282.3V1268.6H508.9V1282.3ZM508.9 1282.3V1266.6H525.0V1282.3ZM525.0 1282.3V1265.4H541.2V1282.3ZM541.2 1282.3V1263.3H557.3V1282.3ZM557.3 1282.3V1262.5H573.5V1282.3ZM573.5 1282.3V1258.1H589.6V1282.3ZM589.6 1282.3V1256.5H605.8V1282.3ZM605.8 1282.3V1256.1H621.9V1282.3ZM621.9 1282.3V1255.3H638.1V1282.3ZM638.1 1282.3V1253.3H654.2V1282.3ZM654.2 1282.3V1253.3H670.4V1282.3ZM670.4 1282.3V1254.5H686.5V1282.3ZM686.5 1282.3V1253.3H702.7V1282.3ZM702.7 1282.3V1254.5H718.8V1282.3ZM718.8 1282.3V1256.5H735.0V1282.3ZM735.0 1282.3V1259.3H751.1V1282.3ZM751.1 1282.3V1261.4H767.3V1282.3ZM767.3 1282.3V1262.5H783.4V1282.3ZM783.4 1282.3V1263.3H799.6V1282.3ZM799.6 1282.3V1266.6H815.7V1282.3ZM815.7 1282.3V1269.4H831.9V1282.3ZM831.9 1282.3V1273.4H848.0V1282.3ZM848.0 1282.3V1275.5H864.2V1282.3ZM864.2 1282.3V1276.7H880.3V1282.3ZM880.3 1282.3V1277.4H896.5V1282.3ZM896.5 1282.3V1279.5H912.6V1282.3ZM912.6 1282.3V1280.6H923.4V1282.3Z" fill="none" stroke="#e8232b" stroke-width="2.9" stroke-linejoin="miter"/>
<line x1="276.2" y1="1282.3" x2="924.6" y2="1282.3" stroke="#4a0d14" stroke-width="2.4" stroke-opacity="0.85"/>
<line x1="817.3" y1="1140.3" x2="817.3" y2="1283.8" stroke="#363636" stroke-width="3.2" stroke-linecap="butt"/>
<text x="40.6" y="1081.2" font-size="30" fill="#333333" textLength="215.8" lengthAdjust="spacingAndGlyphs"><tspan font-family='"Liberation Serif", "DejaVu Serif", serif' font-size="27">&#916;</tspan> Peak angle (º)</text>
<text x="276.3" y="1084.0" font-size="30" fill="#2e3192" textLength="200.6" lengthAdjust="spacingAndGlyphs">mean <tspan font-family='"Liberation Serif", "DejaVu Serif", serif' font-size="27">&#916;</tspan> = -12.1</text>
<text x="506.9" y="1084.0" font-size="30" fill="#2e3192" textLength="232.3" lengthAdjust="spacingAndGlyphs">95%CI [-27.8 2.2]</text>
<text x="767.9" y="1084.0" font-size="30" fill="#2e3192" textLength="297.2" lengthAdjust="spacingAndGlyphs">% below zero = 94.9%</text>
<text x="274.8" y="1120.0" font-size="30" fill="#e8232b" textLength="203.0" lengthAdjust="spacingAndGlyphs">mean <tspan font-family='"Liberation Serif", "DejaVu Serif", serif' font-size="27">&#916;</tspan> = -31.3</text>
<text x="504.1" y="1120.0" font-size="30" fill="#e8232b" textLength="249.9" lengthAdjust="spacingAndGlyphs">95%CI [-80.7 12.4]</text>
<text x="774.1" y="1120.0" font-size="30" fill="#e8232b" textLength="297.9" lengthAdjust="spacingAndGlyphs">% below zero = 91.0%</text>
</g>
<g>
<path d="M1292.8 1163.7H1285.3V1276.6H1930.5V1268.6" fill="none" stroke="#454545" stroke-width="2.5"/>
<text x="1224.3" y="1175.9" font-size="29.5" fill="#2b2b2b" letter-spacing="1.6">0.2</text>
<line x1="1285.3" y1="1219.9" x2="1292.8" y2="1219.9" stroke="#454545" stroke-width="2.4" stroke-linecap="butt"/>
<text x="1221.5" y="1232.5" font-size="29.5" fill="#2b2b2b" letter-spacing="1.6">0.1</text>
<text x="1250.6" y="1289.2" font-size="29.5" fill="#2b2b2b">0</text>
<line x1="1392.8" y1="1276.6" x2="1392.8" y2="1268.6" stroke="#454545" stroke-width="2.2" stroke-linecap="butt"/>
<line x1="1500.4" y1="1276.6" x2="1500.4" y2="1268.6" stroke="#454545" stroke-width="2.2" stroke-linecap="butt"/>
<line x1="1607.9" y1="1276.6" x2="1607.9" y2="1268.6" stroke="#454545" stroke-width="2.2" stroke-linecap="butt"/>
<line x1="1715.4" y1="1276.6" x2="1715.4" y2="1268.6" stroke="#454545" stroke-width="2.2" stroke-linecap="butt"/>
<line x1="1823.0" y1="1276.6" x2="1823.0" y2="1268.6" stroke="#454545" stroke-width="2.2" stroke-linecap="butt"/>
<text x="1278.7" y="1320.8" font-size="29.5" fill="#2b2b2b" text-anchor="middle">-100</text>
<text x="1381.7" y="1320.8" font-size="29.5" fill="#2b2b2b" text-anchor="middle">-80</text>
<text x="1492.2" y="1320.8" font-size="29.5" fill="#2b2b2b" text-anchor="middle">-60</text>
<text x="1603.5" y="1320.8" font-size="29.5" fill="#2b2b2b" text-anchor="middle">-40</text>
<text x="1712.3" y="1320.8" font-size="29.5" fill="#2b2b2b" text-anchor="middle">-20</text>
<text x="1827.7" y="1320.8" font-size="29.5" fill="#2b2b2b" text-anchor="middle">0</text>
<text x="1936.5" y="1320.8" font-size="29.5" fill="#2b2b2b" text-anchor="middle">20</text>
<path d="M1613.3 1276.6V1274.3H1629.8V1276.6ZM1629.4 1276.6V1267.5H1645.9V1276.6ZM1645.5 1276.6V1255.1H1662.1V1276.6ZM1661.7 1276.6V1246.0H1678.2V1276.6ZM1677.8 1276.6V1231.3H1694.3V1276.6ZM1693.9 1276.6V1217.1H1710.5V1276.6ZM1710.1 1276.6V1209.2H1726.6V1276.6ZM1726.2 1276.6V1204.1H1742.7V1276.6ZM1742.3 1276.6V1206.4H1758.8V1276.6ZM1758.4 1276.6V1218.3H1775.0V1276.6ZM1774.6 1276.6V1233.0H1791.1V1276.6ZM1790.7 1276.6V1246.6H1807.2V1276.6ZM1806.8 1276.6V1260.7H1823.4V1276.6ZM1823.0 1276.6V1268.7H1839.5V1276.6ZM1839.1 1276.6V1272.6H1855.6V1276.6ZM1855.2 1276.6V1274.9H1871.8V1276.6Z" fill="#2b2d8e"/>
<line x1="1285.3" y1="1277.0" x2="1930.5" y2="1277.0" stroke="#e8232b" stroke-width="3.4"/>
<path d="M1532.6 1276.6V1274.3H1548.8V1276.6ZM1548.8 1276.6V1270.4H1564.9V1276.6ZM1564.9 1276.6V1265.3H1581.0V1276.6ZM1581.0 1276.6V1257.9H1597.1V1276.6ZM1597.1 1276.6V1250.5H1613.3V1276.6ZM1613.3 1276.6V1240.3H1629.4V1276.6ZM1629.4 1276.6V1233.0H1645.5V1276.6ZM1645.5 1276.6V1233.0H1661.7V1276.6ZM1661.7 1276.6V1229.0H1677.8V1276.6ZM1677.8 1276.6V1227.9H1693.9V1276.6ZM1693.9 1276.6V1230.1H1710.1V1276.6ZM1710.1 1276.6V1235.2H1726.2V1276.6ZM1726.2 1276.6V1234.7H1742.3V1276.6ZM1742.3 1276.6V1242.0H1758.4V1276.6ZM1758.4 1276.6V1250.5H1774.6V1276.6ZM1774.6 1276.6V1254.5H1790.7V1276.6ZM1790.7 1276.6V1260.7H1806.8V1276.6ZM1806.8 1276.6V1263.6H1823.0V1276.6ZM1823.0 1276.6V1267.5H1839.1V1276.6ZM1839.1 1276.6V1269.2H1855.2V1276.6ZM1855.2 1276.6V1272.1H1871.4V1276.6ZM1871.4 1276.6V1274.3H1887.5V1276.6ZM1887.5 1276.6V1275.5H1903.6V1276.6Z" fill="none" stroke="#e8232b" stroke-width="2.9" stroke-linejoin="miter"/>
<line x1="1284.1" y1="1276.6" x2="1931.7" y2="1276.6" stroke="#4a0d14" stroke-width="2.4" stroke-opacity="0.85"/>
<line x1="1819.2" y1="1136.3" x2="1819.2" y2="1278.1" stroke="#363636" stroke-width="3.2" stroke-linecap="butt"/>
<text x="1283.6" y="1085.2" font-size="30" fill="#2e3192" textLength="204.0" lengthAdjust="spacingAndGlyphs">mean <tspan font-family='"Liberation Serif", "DejaVu Serif", serif' font-size="27">&#916;</tspan> = -17.0</text>
<text x="1522.9" y="1085.2" font-size="30" fill="#2e3192" textLength="233.3" lengthAdjust="spacingAndGlyphs">95%CI [-35.6 0.4]</text>
<text x="1775.6" y="1085.2" font-size="30" fill="#2e3192" textLength="297.2" lengthAdjust="spacingAndGlyphs">% below zero = 97.3%</text>
<text x="1283.6" y="1122.4" font-size="30" fill="#e8232b" textLength="204.6" lengthAdjust="spacingAndGlyphs">mean <tspan font-family='"Liberation Serif", "DejaVu Serif", serif' font-size="27">&#916;</tspan> = -23.5</text>
<text x="1522.9" y="1122.4" font-size="30" fill="#e8232b" textLength="234.5" lengthAdjust="spacingAndGlyphs">95%CI [-46.6 5.7]</text>
<text x="1783.6" y="1122.4" font-size="30" fill="#e8232b" textLength="298.4" lengthAdjust="spacingAndGlyphs">% below zero = 94.5%</text>
<text x="1727.4" y="1203.5" font-size="36" fill="#2e3192" text-anchor="middle" stroke="#2e3192" stroke-width="0.9" letter-spacing="0.6">*</text>
</g>
<g>
<path d="M284.9 1509.8H277.4V1623.5H922.6V1615.5" fill="none" stroke="#454545" stroke-width="2.5"/>
<text x="216.4" y="1522.0" font-size="29.5" fill="#2b2b2b" letter-spacing="1.6">0.4</text>
<line x1="277.4" y1="1566.5" x2="284.9" y2="1566.5" stroke="#454545" stroke-width="2.4" stroke-linecap="butt"/>
<text x="216.4" y="1579.0" font-size="29.5" fill="#2b2b2b" letter-spacing="1.6">0.2</text>
<text x="242.7" y="1636.1" font-size="29.5" fill="#2b2b2b">0</text>
<line x1="492.5" y1="1623.5" x2="492.5" y2="1615.5" stroke="#454545" stroke-width="2.2" stroke-linecap="butt"/>
<line x1="707.5" y1="1623.5" x2="707.5" y2="1615.5" stroke="#454545" stroke-width="2.2" stroke-linecap="butt"/>
<text x="279.6" y="1658.5" font-size="29.5" fill="#2b2b2b" text-anchor="middle">-20</text>
<text x="482.7" y="1658.5" font-size="29.5" fill="#2b2b2b" text-anchor="middle">-10</text>
<text x="705.6" y="1658.5" font-size="29.5" fill="#2b2b2b" text-anchor="middle">0</text>
<text x="923.8" y="1658.5" font-size="29.5" fill="#2b2b2b" text-anchor="middle">10</text>
<path d="M649.3 1623.5V1616.4H665.8V1623.5ZM665.4 1623.5V1598.1H681.9V1623.5ZM681.5 1623.5V1570.4H698.0V1623.5ZM697.6 1623.5V1553.3H714.2V1623.5ZM713.8 1623.5V1557.9H730.3V1623.5ZM729.9 1623.5V1587.3H746.4V1623.5ZM746.0 1623.5V1610.4H762.6V1623.5ZM762.2 1623.5V1617.5H778.7V1623.5ZM778.3 1623.5V1620.6H794.8V1623.5Z" fill="#2b2d8e"/>
<line x1="277.4" y1="1623.9" x2="922.6" y2="1623.9" stroke="#e8232b" stroke-width="3.4"/>
<path d="M326.7 1623.5V1622.7H342.8V1623.5ZM342.8 1623.5V1622.3H358.9V1623.5ZM358.9 1623.5V1621.8H375.0V1623.5ZM375.0 1623.5V1621.3H391.2V1623.5ZM391.2 1623.5V1620.7H407.3V1623.5ZM407.3 1623.5V1620.1H423.4V1623.5ZM423.4 1623.5V1619.5H439.6V1623.5ZM439.6 1623.5V1618.6H455.7V1623.5ZM455.7 1623.5V1617.4H471.8V1623.5ZM471.8 1623.5V1616.2H488.0V1623.5ZM488.0 1623.5V1615.2H504.1V1623.5ZM504.1 1623.5V1614.2H520.2V1623.5ZM520.2 1623.5V1613.1H536.3V1623.5ZM536.3 1623.5V1611.9H552.5V1623.5ZM552.5 1623.5V1611.0H568.6V1623.5ZM568.6 1623.5V1610.2H584.7V1623.5ZM584.7 1623.5V1609.3H600.9V1623.5ZM600.9 1623.5V1608.5H617.0V1623.5ZM617.0 1623.5V1608.0H633.1V1623.5ZM633.1 1623.5V1607.6H649.3V1623.5ZM649.3 1623.5V1605.6H665.4V1623.5ZM665.4 1623.5V1607.6H681.5V1623.5ZM681.5 1623.5V1610.0H697.6V1623.5ZM697.6 1623.5V1611.4H713.8V1623.5ZM713.8 1623.5V1612.9H729.9V1623.5ZM729.9 1623.5V1614.7H746.0V1623.5ZM746.0 1623.5V1616.4H762.2V1623.5ZM762.2 1623.5V1617.7H778.3V1623.5ZM778.3 1623.5V1618.9H794.4V1623.5ZM794.4 1623.5V1620.2H810.6V1623.5ZM810.6 1623.5V1621.4H826.7V1623.5ZM826.7 1623.5V1622.1H842.8V1623.5ZM842.8 1623.5V1622.7H858.9V1623.5ZM858.9 1623.5V1623.2H875.1V1623.5Z" fill="none" stroke="#e8232b" stroke-width="2.9" stroke-linejoin="miter"/>
<line x1="276.2" y1="1623.5" x2="923.8" y2="1623.5" stroke="#4a0d14" stroke-width="2.4" stroke-opacity="0.85"/>
<line x1="705.6" y1="1480.3" x2="705.6" y2="1625.0" stroke="#363636" stroke-width="3.2" stroke-linecap="butt"/>
<text x="40.8" y="1427.5" font-size="30" fill="#333333" textLength="82.8" lengthAdjust="spacingAndGlyphs"><tspan font-family='"Liberation Serif", "DejaVu Serif", serif' font-size="27">&#916;</tspan> Max</text>
<text x="40.8" y="1462.2" font-size="30" fill="#333333" textLength="187.6" lengthAdjust="spacingAndGlyphs">velocity (º/ms)</text>
<text x="275.9" y="1422.6" font-size="30" fill="#2e3192" textLength="193.1" lengthAdjust="spacingAndGlyphs">mean <tspan font-family='"Liberation Serif", "DejaVu Serif", serif' font-size="27">&#916;</tspan> = 0.03</text>
<text x="504.3" y="1422.6" font-size="30" fill="#2e3192" textLength="217.4" lengthAdjust="spacingAndGlyphs">95%CI [-2.2 2.3]</text>
<text x="741.2" y="1422.6" font-size="30" fill="#2e3192" textLength="297.2" lengthAdjust="spacingAndGlyphs">% below zero = 48.8%</text>
<text x="275.9" y="1458.0" font-size="30" fill="#e8232b" textLength="187.0" lengthAdjust="spacingAndGlyphs">mean <tspan font-family='"Liberation Serif", "DejaVu Serif", serif' font-size="27">&#916;</tspan> = -4.4</text>
<text x="498.2" y="1458.0" font-size="30" fill="#e8232b" textLength="234.4" lengthAdjust="spacingAndGlyphs">95%CI [-15.0 5.0]</text>
<text x="750.9" y="1458.0" font-size="30" fill="#e8232b" textLength="298.4" lengthAdjust="spacingAndGlyphs">% below zero = 79.1%</text>
</g>
<g>
<path d="M1291.6 1514.2H1284.1V1627.5H1929.3V1619.5" fill="none" stroke="#454545" stroke-width="2.5"/>
<text x="1223.1" y="1526.4" font-size="29.5" fill="#2b2b2b" letter-spacing="1.6">0.4</text>
<line x1="1284.1" y1="1570.7" x2="1291.6" y2="1570.7" stroke="#454545" stroke-width="2.4" stroke-linecap="butt"/>
<text x="1223.1" y="1583.2" font-size="29.5" fill="#2b2b2b" letter-spacing="1.6">0.2</text>
<text x="1249.4" y="1640.1" font-size="29.5" fill="#2b2b2b">0</text>
<line x1="1499.2" y1="1627.5" x2="1499.2" y2="1619.5" stroke="#454545" stroke-width="2.2" stroke-linecap="butt"/>
<line x1="1714.2" y1="1627.5" x2="1714.2" y2="1619.5" stroke="#454545" stroke-width="2.2" stroke-linecap="butt"/>
<text x="1286.5" y="1664.6" font-size="29.5" fill="#2b2b2b" text-anchor="middle">-20</text>
<text x="1490.6" y="1664.6" font-size="29.5" fill="#2b2b2b" text-anchor="middle">-10</text>
<text x="1712.3" y="1664.6" font-size="29.5" fill="#2b2b2b" text-anchor="middle">0</text>
<text x="1932.0" y="1664.6" font-size="29.5" fill="#2b2b2b" text-anchor="middle">10</text>
<path d="M1606.1 1627.5V1624.4H1622.6V1627.5ZM1622.2 1627.5V1615.6H1638.7V1627.5ZM1638.3 1627.5V1598.8H1654.8V1627.5ZM1654.4 1627.5V1576.6H1671.0V1627.5ZM1670.6 1627.5V1558.1H1687.1V1627.5ZM1686.7 1627.5V1561.6H1703.2V1627.5ZM1702.8 1627.5V1592.5H1719.4V1627.5ZM1719.0 1627.5V1621.5H1735.5V1627.5Z" fill="#2b2d8e"/>
<line x1="1284.1" y1="1627.9" x2="1929.3" y2="1627.9" stroke="#e8232b" stroke-width="3.4"/>
<path d="M1654.9 1627.5V1618.4H1671.0V1627.5ZM1671.0 1627.5V1577.5H1687.1V1627.5ZM1687.1 1627.5V1520.6H1703.3V1627.5ZM1703.3 1627.5V1544.5H1719.4V1627.5ZM1719.4 1627.5V1602.8H1735.5V1627.5ZM1735.5 1627.5V1623.5H1751.7V1627.5Z" fill="none" stroke="#e8232b" stroke-width="2.9" stroke-linejoin="miter"/>
<line x1="1282.9" y1="1627.5" x2="1930.5" y2="1627.5" stroke="#4a0d14" stroke-width="2.4" stroke-opacity="0.85"/>
<line x1="1710.7" y1="1484.4" x2="1710.7" y2="1629.0" stroke="#363636" stroke-width="3.2" stroke-linecap="butt"/>
<text x="1288.4" y="1421.4" font-size="30" fill="#2e3192" textLength="187.0" lengthAdjust="spacingAndGlyphs">mean <tspan font-family='"Liberation Serif", "DejaVu Serif", serif' font-size="27">&#916;</tspan> = -1.7</text>
<text x="1501.6" y="1421.4" font-size="30" fill="#2e3192" textLength="218.0" lengthAdjust="spacingAndGlyphs">95%CI [-4.2 0.3]</text>
<text x="1746.4" y="1421.4" font-size="30" fill="#2e3192" textLength="298.4" lengthAdjust="spacingAndGlyphs">% below zero = 94.5%</text>
<text x="1288.4" y="1459.2" font-size="30" fill="#e8232b" textLength="187.0" lengthAdjust="spacingAndGlyphs">mean <tspan font-family='"Liberation Serif", "DejaVu Serif", serif' font-size="27">&#916;</tspan> = -0.7</text>
<text x="1509.5" y="1459.2" font-size="30" fill="#e8232b" textLength="217.4" lengthAdjust="spacingAndGlyphs">95%CI [-2.1 0.8]</text>
<text x="1753.1" y="1459.2" font-size="30" fill="#e8232b" textLength="299.6" lengthAdjust="spacingAndGlyphs">% below zero = 81.9%</text>
</g>
<g>
<path d="M281.7 1821.0H274.2V1934.3H919.4V1926.3" fill="none" stroke="#454545" stroke-width="2.5"/>
<text x="213.2" y="1833.2" font-size="29.5" fill="#2b2b2b" letter-spacing="1.6">0.4</text>
<line x1="274.2" y1="1877.4" x2="281.7" y2="1877.4" stroke="#454545" stroke-width="2.4" stroke-linecap="butt"/>
<text x="213.2" y="1890.0" font-size="29.5" fill="#2b2b2b" letter-spacing="1.6">0.2</text>
<text x="239.5" y="1946.9" font-size="29.5" fill="#2b2b2b">0</text>
<line x1="435.5" y1="1934.3" x2="435.5" y2="1926.3" stroke="#454545" stroke-width="2.2" stroke-linecap="butt"/>
<line x1="596.8" y1="1934.3" x2="596.8" y2="1926.3" stroke="#454545" stroke-width="2.2" stroke-linecap="butt"/>
<line x1="758.1" y1="1934.3" x2="758.1" y2="1926.3" stroke="#454545" stroke-width="2.2" stroke-linecap="butt"/>
<text x="267.7" y="1976.6" font-size="29.5" fill="#2b2b2b" text-anchor="middle">-4</text>
<text x="437.5" y="1976.6" font-size="29.5" fill="#2b2b2b" text-anchor="middle">-2</text>
<text x="592.7" y="1976.6" font-size="29.5" fill="#2b2b2b" text-anchor="middle">0</text>
<text x="753.2" y="1976.6" font-size="29.5" fill="#2b2b2b" text-anchor="middle">2</text>
<text x="919.4" y="1976.6" font-size="29.5" fill="#2b2b2b" text-anchor="middle">4</text>
<path d="M563.7 1934.3V1931.5H580.3V1934.3ZM579.9 1934.3V1910.1H596.4V1934.3ZM596.0 1934.3V1861.0H612.5V1934.3ZM612.1 1934.3V1829.4H628.7V1934.3ZM628.3 1934.3V1872.3H644.8V1934.3ZM644.4 1934.3V1922.6H660.9V1934.3ZM660.5 1934.3V1932.3H677.0V1934.3Z" fill="#2b2d8e"/>
<line x1="274.2" y1="1934.7" x2="919.4" y2="1934.7" stroke="#e8232b" stroke-width="3.4"/>
<path d="M289.5 1934.3V1933.7H305.7V1934.3ZM305.7 1934.3V1933.2H321.8V1934.3ZM321.8 1934.3V1932.3H337.9V1934.3ZM337.9 1934.3V1931.5H354.0V1934.3ZM354.0 1934.3V1930.3H370.2V1934.3ZM370.2 1934.3V1928.6H386.3V1934.3ZM386.3 1934.3V1927.5H402.4V1934.3ZM402.4 1934.3V1925.8H418.6V1934.3ZM418.6 1934.3V1925.5H434.7V1934.3ZM434.7 1934.3V1923.5H450.8V1934.3ZM450.8 1934.3V1920.7H467.0V1934.3ZM467.0 1934.3V1920.7H483.1V1934.3ZM483.1 1934.3V1917.2H499.2V1934.3ZM499.2 1934.3V1917.2H515.3V1934.3ZM515.3 1934.3V1918.1H531.5V1934.3ZM531.5 1934.3V1915.3H547.6V1934.3ZM547.6 1934.3V1915.3H563.7V1934.3ZM563.7 1934.3V1916.1H579.9V1934.3ZM579.9 1934.3V1917.2H596.0V1934.3ZM596.0 1934.3V1919.5H612.1V1934.3ZM612.1 1934.3V1920.7H628.3V1934.3ZM628.3 1934.3V1920.7H644.4V1934.3ZM644.4 1934.3V1923.5H660.5V1934.3ZM660.5 1934.3V1926.3H676.6V1934.3ZM676.6 1934.3V1927.5H692.8V1934.3ZM692.8 1934.3V1930.3H708.9V1934.3ZM708.9 1934.3V1930.6H725.0V1934.3ZM725.0 1934.3V1932.3H741.2V1934.3ZM741.2 1934.3V1933.2H757.3V1934.3ZM757.3 1934.3V1933.7H773.4V1934.3Z" fill="none" stroke="#e8232b" stroke-width="2.9" stroke-linejoin="miter"/>
<line x1="273.0" y1="1934.3" x2="920.6" y2="1934.3" stroke="#4a0d14" stroke-width="2.4" stroke-opacity="0.85"/>
<line x1="594.8" y1="1794.4" x2="594.8" y2="1935.8" stroke="#363636" stroke-width="3.2" stroke-linecap="butt"/>
<text x="40.8" y="1739.3" font-size="30" fill="#333333" textLength="100.5" lengthAdjust="spacingAndGlyphs"><tspan font-family='"Liberation Serif", "DejaVu Serif", serif' font-size="27">&#916;</tspan> Mean</text>
<text x="40.8" y="1774.0" font-size="30" fill="#333333" textLength="187.6" lengthAdjust="spacingAndGlyphs">velocity (º/ms)</text>
<text x="276.8" y="1745.4" font-size="30" fill="#2e3192" textLength="178.1" lengthAdjust="spacingAndGlyphs">mean <tspan font-family='"Liberation Serif", "DejaVu Serif", serif' font-size="27">&#916;</tspan> = 0.3</text>
<text x="490.3" y="1745.4" font-size="30" fill="#2e3192" textLength="217.4" lengthAdjust="spacingAndGlyphs">95%CI [-0.2 0.7]</text>
<text x="724.7" y="1745.4" font-size="30" fill="#2e3192" textLength="299.7" lengthAdjust="spacingAndGlyphs">% below zero = 10.4%</text>
<text x="275.8" y="1780.7" font-size="30" fill="#e8232b" textLength="188.3" lengthAdjust="spacingAndGlyphs">mean <tspan font-family='"Liberation Serif", "DejaVu Serif", serif' font-size="27">&#916;</tspan> = -0.7</text>
<text x="491.5" y="1780.7" font-size="30" fill="#e8232b" textLength="216.8" lengthAdjust="spacingAndGlyphs">95%CI [-3.1 1.5]</text>
<text x="726.6" y="1780.7" font-size="30" fill="#e8232b" textLength="298.4" lengthAdjust="spacingAndGlyphs">% below zero = 71.2%</text>
</g>
<g>
<path d="M1294.4 1826.2H1286.9V1940.3H1932.1V1932.3" fill="none" stroke="#454545" stroke-width="2.5"/>
<text x="1225.9" y="1838.4" font-size="29.5" fill="#2b2b2b" letter-spacing="1.6">0.4</text>
<line x1="1286.9" y1="1883.0" x2="1294.4" y2="1883.0" stroke="#454545" stroke-width="2.4" stroke-linecap="butt"/>
<text x="1225.9" y="1895.6" font-size="29.5" fill="#2b2b2b" letter-spacing="1.6">0.2</text>
<text x="1252.2" y="1952.9" font-size="29.5" fill="#2b2b2b">0</text>
<line x1="1448.2" y1="1940.3" x2="1448.2" y2="1932.3" stroke="#454545" stroke-width="2.2" stroke-linecap="butt"/>
<line x1="1609.5" y1="1940.3" x2="1609.5" y2="1932.3" stroke="#454545" stroke-width="2.2" stroke-linecap="butt"/>
<line x1="1770.8" y1="1940.3" x2="1770.8" y2="1932.3" stroke="#454545" stroke-width="2.2" stroke-linecap="butt"/>
<text x="1280.0" y="1987.9" font-size="29.5" fill="#2b2b2b" text-anchor="middle">-4</text>
<text x="1449.4" y="1987.9" font-size="29.5" fill="#2b2b2b" text-anchor="middle">-2</text>
<text x="1605.5" y="1987.9" font-size="29.5" fill="#2b2b2b" text-anchor="middle">0</text>
<text x="1764.0" y="1987.9" font-size="29.5" fill="#2b2b2b" text-anchor="middle">2</text>
<text x="1931.3" y="1987.9" font-size="29.5" fill="#2b2b2b" text-anchor="middle">4</text>
<path d="M1560.3 1940.3V1935.4H1576.8V1940.3ZM1576.4 1940.3V1917.1H1593.0V1940.3ZM1592.6 1940.3V1877.9H1609.1V1940.3ZM1608.7 1940.3V1848.1H1625.2V1940.3ZM1624.8 1940.3V1873.6H1641.4V1940.3ZM1641.0 1940.3V1915.1H1657.5V1940.3ZM1657.1 1940.3V1936.3H1673.6V1940.3Z" fill="#2b2d8e"/>
<line x1="1286.9" y1="1940.7" x2="1932.1" y2="1940.7" stroke="#e8232b" stroke-width="3.4"/>
<path d="M1576.4 1940.3V1936.3H1592.6V1940.3ZM1592.6 1940.3V1900.8H1608.7V1940.3ZM1608.7 1940.3V1831.8H1624.8V1940.3ZM1624.8 1940.3V1835.2H1641.0V1940.3ZM1641.0 1940.3V1914.3H1657.1V1940.3ZM1657.1 1940.3V1936.6H1673.2V1940.3Z" fill="none" stroke="#e8232b" stroke-width="2.9" stroke-linejoin="miter"/>
<line x1="1285.7" y1="1940.3" x2="1933.3" y2="1940.3" stroke="#4a0d14" stroke-width="2.4" stroke-opacity="0.85"/>
<line x1="1606.7" y1="1798.4" x2="1606.7" y2="1941.8" stroke="#363636" stroke-width="3.2" stroke-linecap="butt"/>
<text x="1286.6" y="1748.5" font-size="30" fill="#2e3192" textLength="175.4" lengthAdjust="spacingAndGlyphs">mean <tspan font-family='"Liberation Serif", "DejaVu Serif", serif' font-size="27">&#916;</tspan> = 0.1</text>
<text x="1498.5" y="1748.5" font-size="30" fill="#2e3192" textLength="217.5" lengthAdjust="spacingAndGlyphs">95%CI [-0.4 0.6]</text>
<text x="1742.1" y="1748.5" font-size="30" fill="#2e3192" textLength="299.7" lengthAdjust="spacingAndGlyphs">% below zero = 33.2%</text>
<text x="1286.6" y="1780.1" font-size="30" fill="#e8232b" textLength="177.2" lengthAdjust="spacingAndGlyphs">mean <tspan font-family='"Liberation Serif", "DejaVu Serif", serif' font-size="27">&#916;</tspan> = 0.2</text>
<text x="1498.5" y="1780.1" font-size="30" fill="#e8232b" textLength="217.5" lengthAdjust="spacingAndGlyphs">95%CI [-0.2 0.5]</text>
<text x="1742.1" y="1780.1" font-size="30" fill="#e8232b" textLength="307.6" lengthAdjust="spacingAndGlyphs">% below zero = 15.8 %</text>
</g>
<g>
<path d="M284.9 2133.3H277.4V2246.2H922.6" fill="none" stroke="#454545" stroke-width="2.5"/>
<text x="216.4" y="2145.5" font-size="29.5" fill="#2b2b2b" letter-spacing="1.6">0.2</text>
<line x1="277.4" y1="2189.6" x2="284.9" y2="2189.6" stroke="#454545" stroke-width="2.4" stroke-linecap="butt"/>
<text x="213.6" y="2202.2" font-size="29.5" fill="#2b2b2b" letter-spacing="1.6">0.1</text>
<text x="242.7" y="2258.8" font-size="29.5" fill="#2b2b2b">0</text>
<line x1="342.0" y1="2246.2" x2="342.0" y2="2238.2" stroke="#454545" stroke-width="2.2" stroke-linecap="butt"/>
<line x1="471.3" y1="2246.2" x2="471.3" y2="2238.2" stroke="#454545" stroke-width="2.2" stroke-linecap="butt"/>
<line x1="600.6" y1="2246.2" x2="600.6" y2="2238.2" stroke="#454545" stroke-width="2.2" stroke-linecap="butt"/>
<line x1="729.9" y1="2246.2" x2="729.9" y2="2238.2" stroke="#454545" stroke-width="2.2" stroke-linecap="butt"/>
<line x1="859.2" y1="2246.2" x2="859.2" y2="2238.2" stroke="#454545" stroke-width="2.2" stroke-linecap="butt"/>
<text x="335.5" y="2281.7" font-size="29.5" fill="#2b2b2b" text-anchor="middle">-200</text>
<text x="479.8" y="2281.7" font-size="29.5" fill="#2b2b2b" text-anchor="middle">-100</text>
<text x="602.0" y="2281.7" font-size="29.5" fill="#2b2b2b" text-anchor="middle">0</text>
<text x="729.0" y="2281.7" font-size="29.5" fill="#2b2b2b" text-anchor="middle">100</text>
<text x="853.6" y="2281.7" font-size="29.5" fill="#2b2b2b" text-anchor="middle">200</text>
<path d="M600.6 2246.2V2240.0H614.0V2246.2ZM613.6 2246.2V2221.8H626.9V2246.2ZM626.5 2246.2V2204.3H639.8V2246.2ZM639.4 2246.2V2199.2H652.8V2246.2ZM652.4 2246.2V2208.2H665.7V2246.2ZM665.3 2246.2V2220.1H678.6V2246.2ZM678.2 2246.2V2223.5H691.6V2246.2ZM691.2 2246.2V2216.2H704.5V2246.2ZM704.1 2246.2V2206.0H717.4V2246.2ZM717.0 2246.2V2203.7H730.3V2246.2ZM729.9 2246.2V2208.2H743.3V2246.2ZM742.9 2246.2V2216.2H756.2V2246.2ZM755.8 2246.2V2226.1H769.1V2246.2ZM768.7 2246.2V2227.2H782.1V2246.2ZM781.7 2246.2V2228.4H795.0V2246.2ZM794.6 2246.2V2230.0H807.9V2246.2ZM807.5 2246.2V2230.7H820.9V2246.2ZM820.5 2246.2V2235.8H833.8V2246.2ZM833.4 2246.2V2235.8H846.7V2246.2ZM846.3 2246.2V2240.4H859.6V2246.2ZM859.2 2246.2V2241.1H872.6V2246.2ZM872.2 2246.2V2242.8H885.5V2246.2ZM885.1 2246.2V2242.8H898.4V2246.2ZM898.0 2246.2V2245.1H911.4V2246.2ZM911.0 2246.2V2245.6H923.0V2246.2Z" fill="#2b2d8e"/>
<line x1="277.4" y1="2246.6" x2="922.6" y2="2246.6" stroke="#e8232b" stroke-width="3.4"/>
<path d="M497.2 2246.2V2244.5H510.1V2246.2ZM510.1 2246.2V2243.4H523.1V2246.2ZM523.1 2246.2V2242.8H536.0V2246.2ZM536.0 2246.2V2238.8H548.9V2246.2ZM548.9 2246.2V2230.3H561.9V2246.2ZM561.9 2246.2V2224.1H574.8V2246.2ZM574.8 2246.2V2209.9H587.7V2246.2ZM587.7 2246.2V2199.2H600.6V2246.2ZM600.6 2246.2V2187.3H613.6V2246.2ZM613.6 2246.2V2179.4H626.5V2246.2ZM626.5 2246.2V2181.1H639.4V2246.2ZM639.4 2246.2V2186.2H652.4V2246.2ZM652.4 2246.2V2191.8H665.3V2246.2ZM665.3 2246.2V2204.3H678.2V2246.2ZM678.2 2246.2V2213.3H691.2V2246.2ZM691.2 2246.2V2225.2H704.1V2246.2ZM704.1 2246.2V2232.6H717.0V2246.2ZM717.0 2246.2V2238.3H729.9V2246.2ZM729.9 2246.2V2242.2H742.9V2246.2ZM742.9 2246.2V2243.4H755.8V2246.2ZM755.8 2246.2V2245.1H768.7V2246.2Z" fill="none" stroke="#e8232b" stroke-width="2.9" stroke-linejoin="miter"/>
<line x1="276.2" y1="2246.2" x2="923.8" y2="2246.2" stroke="#4a0d14" stroke-width="2.4" stroke-opacity="0.85"/>
<line x1="600.8" y1="2104.3" x2="600.8" y2="2247.7" stroke="#363636" stroke-width="3.2" stroke-linecap="butt"/>
<text x="40.8" y="2073.1" font-size="30" fill="#333333" textLength="208.9" lengthAdjust="spacingAndGlyphs"><tspan font-family='"Liberation Serif", "DejaVu Serif", serif' font-size="27">&#916;</tspan> Duration (ms)</text>
<text x="274.1" y="2060.9" font-size="30" fill="#2e3192" textLength="193.6" lengthAdjust="spacingAndGlyphs">mean <tspan font-family='"Liberation Serif", "DejaVu Serif", serif' font-size="27">&#916;</tspan> = 92.3</text>
<text x="502.4" y="2060.9" font-size="30" fill="#2e3192" textLength="258.9" lengthAdjust="spacingAndGlyphs">95%CI [11.2 228.1]</text>
<text x="786.8" y="2060.9" font-size="30" fill="#2e3192" textLength="281.2" lengthAdjust="spacingAndGlyphs">% below zero = 0.5%</text>
<text x="274.1" y="2095.0" font-size="30" fill="#e8232b" textLength="193.6" lengthAdjust="spacingAndGlyphs">mean <tspan font-family='"Liberation Serif", "DejaVu Serif", serif' font-size="27">&#916;</tspan> = 23.9</text>
<text x="494.5" y="2095.0" font-size="30" fill="#e8232b" textLength="250.3" lengthAdjust="spacingAndGlyphs">95%CI [-38.9 88.1]</text>
<text x="771.6" y="2095.0" font-size="30" fill="#e8232b" textLength="298.8" lengthAdjust="spacingAndGlyphs">% below zero = 23.8%</text>
<text x="792.2" y="2219.5" font-size="40" fill="#2e3192" text-anchor="middle" stroke="#2e3192" stroke-width="0.9" letter-spacing="0.6">***</text>
</g>
<g>
<path d="M1291.6 2132.9H1284.1V2246.2H1929.3" fill="none" stroke="#454545" stroke-width="2.5"/>
<text x="1223.1" y="2145.1" font-size="29.5" fill="#2b2b2b" letter-spacing="1.6">0.4</text>
<line x1="1284.1" y1="2189.3" x2="1291.6" y2="2189.3" stroke="#454545" stroke-width="2.4" stroke-linecap="butt"/>
<text x="1223.1" y="2201.9" font-size="29.5" fill="#2b2b2b" letter-spacing="1.6">0.2</text>
<text x="1249.4" y="2258.8" font-size="29.5" fill="#2b2b2b">0</text>
<line x1="1348.6" y1="2246.2" x2="1348.6" y2="2238.2" stroke="#454545" stroke-width="2.2" stroke-linecap="butt"/>
<line x1="1477.7" y1="2246.2" x2="1477.7" y2="2238.2" stroke="#454545" stroke-width="2.2" stroke-linecap="butt"/>
<line x1="1606.7" y1="2246.2" x2="1606.7" y2="2238.2" stroke="#454545" stroke-width="2.2" stroke-linecap="butt"/>
<line x1="1735.7" y1="2246.2" x2="1735.7" y2="2238.2" stroke="#454545" stroke-width="2.2" stroke-linecap="butt"/>
<line x1="1864.8" y1="2246.2" x2="1864.8" y2="2238.2" stroke="#454545" stroke-width="2.2" stroke-linecap="butt"/>
<text x="1342.6" y="2283.7" font-size="29.5" fill="#2b2b2b" text-anchor="middle">-200</text>
<text x="1486.5" y="2283.7" font-size="29.5" fill="#2b2b2b" text-anchor="middle">-100</text>
<text x="1608.7" y="2283.7" font-size="29.5" fill="#2b2b2b" text-anchor="middle">0</text>
<text x="1735.7" y="2283.7" font-size="29.5" fill="#2b2b2b" text-anchor="middle">100</text>
<text x="1860.7" y="2283.7" font-size="29.5" fill="#2b2b2b" text-anchor="middle">200</text>
<path d="M1490.6 2246.2V2244.5H1503.9V2246.2ZM1503.5 2246.2V2242.5H1516.8V2246.2ZM1516.4 2246.2V2240.2H1529.7V2246.2ZM1529.3 2246.2V2236.5H1542.6V2246.2ZM1542.2 2246.2V2232.6H1555.5V2246.2ZM1555.1 2246.2V2227.2H1568.4V2246.2ZM1568.0 2246.2V2222.0H1581.3V2246.2ZM1580.9 2246.2V2218.3H1594.2V2246.2ZM1593.8 2246.2V2217.2H1607.1V2246.2ZM1606.7 2246.2V2218.3H1620.0V2246.2ZM1619.6 2246.2V2220.3H1632.9V2246.2ZM1632.5 2246.2V2223.2H1645.8V2246.2ZM1645.4 2246.2V2227.2H1658.7V2246.2ZM1658.3 2246.2V2231.4H1671.6V2246.2ZM1671.2 2246.2V2235.4H1684.5V2246.2ZM1684.1 2246.2V2239.4H1697.4V2246.2ZM1697.0 2246.2V2242.2H1710.3V2246.2ZM1709.9 2246.2V2244.2H1723.2V2246.2ZM1722.8 2246.2V2245.3H1736.1V2246.2Z" fill="#2b2d8e"/>
<line x1="1284.1" y1="2246.6" x2="1929.3" y2="2246.6" stroke="#e8232b" stroke-width="3.4"/>
<path d="M1542.2 2246.2V2244.2H1555.1V2246.2ZM1555.1 2246.2V2237.4H1568.0V2246.2ZM1568.0 2246.2V2227.2H1580.9V2246.2ZM1580.9 2246.2V2209.8H1593.8V2246.2ZM1593.8 2246.2V2195.0H1606.7V2246.2ZM1606.7 2246.2V2189.1H1619.6V2246.2ZM1619.6 2246.2V2197.9H1632.5V2246.2ZM1632.5 2246.2V2213.2H1645.4V2246.2ZM1645.4 2246.2V2226.3H1658.3V2246.2ZM1658.3 2246.2V2237.4H1671.2V2246.2ZM1671.2 2246.2V2242.5H1684.1V2246.2ZM1684.1 2246.2V2244.5H1697.0V2246.2Z" fill="none" stroke="#e8232b" stroke-width="2.9" stroke-linejoin="miter"/>
<line x1="1282.9" y1="2246.2" x2="1930.5" y2="2246.2" stroke="#4a0d14" stroke-width="2.4" stroke-opacity="0.85"/>
<line x1="1607.5" y1="2103.5" x2="1607.5" y2="2247.7" stroke="#363636" stroke-width="3.2" stroke-linecap="butt"/>
<text x="1281.1" y="2060.9" font-size="30" fill="#2e3192" textLength="168.7" lengthAdjust="spacingAndGlyphs">mean <tspan font-family='"Liberation Serif", "DejaVu Serif", serif' font-size="27">&#916;</tspan> =1.2</text>
<text x="1476.0" y="2060.9" font-size="30" fill="#2e3192" textLength="250.9" lengthAdjust="spacingAndGlyphs">95%CI [-71.6 76.1]</text>
<text x="1754.3" y="2060.9" font-size="30" fill="#2e3192" textLength="281.4" lengthAdjust="spacingAndGlyphs">% below zero=49.9%</text>
<text x="1281.1" y="2095.0" font-size="30" fill="#e8232b" textLength="176.6" lengthAdjust="spacingAndGlyphs">mean <tspan font-family='"Liberation Serif", "DejaVu Serif", serif' font-size="27">&#916;</tspan> = 5.4</text>
<text x="1493.7" y="2095.0" font-size="30" fill="#e8232b" textLength="249.7" lengthAdjust="spacingAndGlyphs">95%CI [-31.8 46.3]</text>
<text x="1762.2" y="2095.0" font-size="30" fill="#e8232b" textLength="281.4" lengthAdjust="spacingAndGlyphs">% below zero=40.3%</text>
</g>
<g>
<path d="M280.3 2446.3H272.8V2559.6H919.4V2551.6" fill="none" stroke="#454545" stroke-width="2.5"/>
<text x="211.8" y="2458.5" font-size="29.5" fill="#2b2b2b" letter-spacing="1.6">0.4</text>
<line x1="272.8" y1="2502.8" x2="280.3" y2="2502.8" stroke="#454545" stroke-width="2.4" stroke-linecap="butt"/>
<text x="211.8" y="2515.3" font-size="29.5" fill="#2b2b2b" letter-spacing="1.6">0.2</text>
<text x="238.1" y="2572.2" font-size="29.5" fill="#2b2b2b">0</text>
<line x1="322.4" y1="2559.6" x2="322.4" y2="2551.6" stroke="#454545" stroke-width="2.2" stroke-linecap="butt"/>
<line x1="421.7" y1="2559.6" x2="421.7" y2="2551.6" stroke="#454545" stroke-width="2.2" stroke-linecap="butt"/>
<line x1="520.9" y1="2559.6" x2="520.9" y2="2551.6" stroke="#454545" stroke-width="2.2" stroke-linecap="butt"/>
<line x1="620.2" y1="2559.6" x2="620.2" y2="2551.6" stroke="#454545" stroke-width="2.2" stroke-linecap="butt"/>
<line x1="719.4" y1="2559.6" x2="719.4" y2="2551.6" stroke="#454545" stroke-width="2.2" stroke-linecap="butt"/>
<line x1="818.7" y1="2559.6" x2="818.7" y2="2551.6" stroke="#454545" stroke-width="2.2" stroke-linecap="butt"/>
<text x="316.5" y="2607.9" font-size="29.5" fill="#2b2b2b" text-anchor="middle">-400</text>
<text x="418.5" y="2607.9" font-size="29.5" fill="#2b2b2b" text-anchor="middle">-200</text>
<text x="524.2" y="2607.9" font-size="29.5" fill="#2b2b2b" text-anchor="middle">0</text>
<text x="625.0" y="2607.9" font-size="29.5" fill="#2b2b2b" text-anchor="middle">200</text>
<text x="725.8" y="2607.9" font-size="29.5" fill="#2b2b2b" text-anchor="middle">400</text>
<text x="826.2" y="2607.9" font-size="29.5" fill="#2b2b2b" text-anchor="middle">600</text>
<text x="926.6" y="2607.9" font-size="29.5" fill="#2b2b2b" text-anchor="middle">800</text>
<path d="M471.3 2559.6V2551.6H484.1V2559.6ZM483.7 2559.6V2539.4H496.5V2559.6ZM496.1 2559.6V2521.2H508.9V2559.6ZM508.5 2559.6V2500.2H521.3V2559.6ZM520.9 2559.6V2497.1H533.7V2559.6ZM533.3 2559.6V2511.3H546.1V2559.6ZM545.7 2559.6V2534.6H558.5V2559.6ZM558.1 2559.6V2550.2H570.9V2559.6ZM570.5 2559.6V2557.6H583.3V2559.6Z" fill="#2b2d8e"/>
<line x1="272.8" y1="2560.0" x2="919.4" y2="2560.0" stroke="#e8232b" stroke-width="3.4"/>
<path d="M285.2 2559.6V2559.0H297.6V2559.6ZM297.6 2559.6V2558.5H310.0V2559.6ZM310.0 2559.6V2557.6H322.4V2559.6ZM322.4 2559.6V2556.5H334.8V2559.6ZM334.8 2559.6V2554.5H347.2V2559.6ZM347.2 2559.6V2552.2H359.6V2559.6ZM359.6 2559.6V2548.2H372.0V2559.6ZM372.0 2559.6V2544.3H384.5V2559.6ZM384.5 2559.6V2538.0H396.9V2559.6ZM396.9 2559.6V2532.3H409.3V2559.6ZM409.3 2559.6V2528.0H421.7V2559.6ZM421.7 2559.6V2528.0H434.1V2559.6ZM434.1 2559.6V2526.6H446.5V2559.6ZM446.5 2559.6V2528.0H458.9V2559.6ZM458.9 2559.6V2533.4H471.3V2559.6ZM471.3 2559.6V2539.4H483.7V2559.6ZM483.7 2559.6V2548.8H496.1V2559.6ZM496.1 2559.6V2552.8H508.5V2559.6ZM508.5 2559.6V2556.8H520.9V2559.6ZM520.9 2559.6V2558.7H533.3V2559.6Z" fill="none" stroke="#e8232b" stroke-width="2.9" stroke-linejoin="miter"/>
<line x1="271.6" y1="2559.6" x2="920.6" y2="2559.6" stroke="#4a0d14" stroke-width="2.4" stroke-opacity="0.85"/>
<line x1="523.0" y1="2418.4" x2="523.0" y2="2561.1" stroke="#363636" stroke-width="3.2" stroke-linecap="butt"/>
<text x="40.8" y="2386.7" font-size="30" fill="#333333" textLength="201.0" lengthAdjust="spacingAndGlyphs"><tspan font-family='"Liberation Serif", "DejaVu Serif", serif' font-size="27">&#916;</tspan> Latency (ms)</text>
<text x="272.2" y="2365.4" font-size="30" fill="#2e3192" textLength="176.6" lengthAdjust="spacingAndGlyphs">mean <tspan font-family='"Liberation Serif", "DejaVu Serif", serif' font-size="27">&#916;</tspan> = 2.0</text>
<text x="475.0" y="2365.4" font-size="30" fill="#2e3192" textLength="251.6" lengthAdjust="spacingAndGlyphs">95%CI [-90.8 85.4]</text>
<text x="753.3" y="2365.4" font-size="30" fill="#2e3192" textLength="282.0" lengthAdjust="spacingAndGlyphs">% below zero=47.1%</text>
<text x="272.2" y="2402.6" font-size="30" fill="#e8232b" textLength="219.3" lengthAdjust="spacingAndGlyphs">mean <tspan font-family='"Liberation Serif", "DejaVu Serif", serif' font-size="27">&#916;</tspan> = -193.1</text>
<text x="528.6" y="2402.6" font-size="30" fill="#e8232b" textLength="277.1" lengthAdjust="spacingAndGlyphs">95%CI [-379.5 -48.7]</text>
<text x="832.5" y="2402.6" font-size="30" fill="#e8232b" textLength="289.5" lengthAdjust="spacingAndGlyphs">% below zero= 99.8%</text>
<text x="429.7" y="2518.0" font-size="36" fill="#e8232b" text-anchor="middle" stroke="#e8232b" stroke-width="0.9" letter-spacing="0.6">*</text>
</g>
<g>
<path d="M1291.6 2447.9H1284.1V2560.4H1929.3V2552.4" fill="none" stroke="#454545" stroke-width="2.5"/>
<text x="1220.3" y="2460.1" font-size="29.5" fill="#2b2b2b" letter-spacing="1.6">0.1</text>
<line x1="1284.1" y1="2503.9" x2="1291.6" y2="2503.9" stroke="#454545" stroke-width="2.4" stroke-linecap="butt"/>
<text x="1205.4" y="2516.5" font-size="29.5" fill="#2b2b2b">0.05</text>
<text x="1249.4" y="2573.0" font-size="29.5" fill="#2b2b2b">0</text>
<line x1="1333.7" y1="2560.4" x2="1333.7" y2="2552.4" stroke="#454545" stroke-width="2.2" stroke-linecap="butt"/>
<line x1="1433.0" y1="2560.4" x2="1433.0" y2="2552.4" stroke="#454545" stroke-width="2.2" stroke-linecap="butt"/>
<line x1="1532.3" y1="2560.4" x2="1532.3" y2="2552.4" stroke="#454545" stroke-width="2.2" stroke-linecap="butt"/>
<line x1="1631.5" y1="2560.4" x2="1631.5" y2="2552.4" stroke="#454545" stroke-width="2.2" stroke-linecap="butt"/>
<line x1="1730.8" y1="2560.4" x2="1730.8" y2="2552.4" stroke="#454545" stroke-width="2.2" stroke-linecap="butt"/>
<line x1="1830.0" y1="2560.4" x2="1830.0" y2="2552.4" stroke="#454545" stroke-width="2.2" stroke-linecap="butt"/>
<text x="1303.0" y="2601.5" font-size="29.5" fill="#2b2b2b" text-anchor="middle">-400</text>
<text x="1405.0" y="2601.5" font-size="29.5" fill="#2b2b2b" text-anchor="middle">-200</text>
<text x="1510.7" y="2601.5" font-size="29.5" fill="#2b2b2b" text-anchor="middle">0</text>
<text x="1611.0" y="2601.5" font-size="29.5" fill="#2b2b2b" text-anchor="middle">200</text>
<text x="1712.0" y="2601.5" font-size="29.5" fill="#2b2b2b" text-anchor="middle">400</text>
<text x="1812.7" y="2601.5" font-size="29.5" fill="#2b2b2b" text-anchor="middle">600</text>
<text x="1913.1" y="2601.5" font-size="29.5" fill="#2b2b2b" text-anchor="middle">800</text>
<path d="M1333.7 2560.4V2556.8H1346.5V2560.4ZM1346.1 2560.4V2554.3H1358.9V2560.4ZM1358.5 2560.4V2551.5H1371.4V2560.4ZM1371.0 2560.4V2548.7H1383.8V2560.4ZM1383.4 2560.4V2543.5H1396.2V2560.4ZM1395.8 2560.4V2541.4H1408.6V2560.4ZM1408.2 2560.4V2534.5H1421.0V2560.4ZM1420.6 2560.4V2526.5H1433.4V2560.4ZM1433.0 2560.4V2517.3H1445.8V2560.4ZM1445.4 2560.4V2507.2H1458.2V2560.4ZM1457.8 2560.4V2501.1H1470.6V2560.4ZM1470.2 2560.4V2493.1H1483.0V2560.4ZM1482.6 2560.4V2490.3H1495.4V2560.4ZM1495.0 2560.4V2483.0H1507.8V2560.4ZM1507.4 2560.4V2477.0H1520.2V2560.4ZM1519.8 2560.4V2474.1H1532.7V2560.4ZM1532.3 2560.4V2477.0H1545.1V2560.4ZM1544.7 2560.4V2491.1H1557.5V2560.4ZM1557.1 2560.4V2499.9H1569.9V2560.4ZM1569.5 2560.4V2503.9H1582.3V2560.4ZM1581.9 2560.4V2514.4H1594.7V2560.4ZM1594.3 2560.4V2524.2H1607.1V2560.4ZM1606.7 2560.4V2530.6H1619.5V2560.4ZM1619.1 2560.4V2538.6H1631.9V2560.4ZM1631.5 2560.4V2545.5H1644.3V2560.4ZM1643.9 2560.4V2549.6H1656.7V2560.4ZM1656.3 2560.4V2553.5H1669.1V2560.4ZM1668.7 2560.4V2556.3H1681.5V2560.4ZM1681.1 2560.4V2558.4H1694.0V2560.4Z" fill="#2b2d8e"/>
<line x1="1284.1" y1="2560.8" x2="1929.3" y2="2560.8" stroke="#e8232b" stroke-width="3.4"/>
<path d="M1557.1 2560.4V2556.3H1569.5V2560.4ZM1569.5 2560.4V2553.5H1581.9V2560.4ZM1581.9 2560.4V2550.4H1594.3V2560.4ZM1594.3 2560.4V2543.5H1606.7V2560.4ZM1606.7 2560.4V2532.6H1619.1V2560.4ZM1619.1 2560.4V2524.5H1631.5V2560.4ZM1631.5 2560.4V2515.2H1643.9V2560.4ZM1643.9 2560.4V2500.3H1656.3V2560.4ZM1656.3 2560.4V2487.8H1668.7V2560.4ZM1668.7 2560.4V2480.9H1681.1V2560.4ZM1681.1 2560.4V2469.6H1693.6V2560.4ZM1693.6 2560.4V2467.7H1706.0V2560.4ZM1706.0 2560.4V2468.0H1718.4V2560.4ZM1718.4 2560.4V2472.9H1730.8V2560.4ZM1730.8 2560.4V2473.7H1743.2V2560.4ZM1743.2 2560.4V2488.3H1755.6V2560.4ZM1755.6 2560.4V2499.1H1768.0V2560.4ZM1768.0 2560.4V2513.2H1780.4V2560.4ZM1780.4 2560.4V2520.1H1792.8V2560.4ZM1792.8 2560.4V2532.6H1805.2V2560.4ZM1805.2 2560.4V2538.3H1817.6V2560.4ZM1817.6 2560.4V2541.4H1830.0V2560.4ZM1830.0 2560.4V2549.6H1842.4V2560.4ZM1842.4 2560.4V2550.4H1854.9V2560.4ZM1854.9 2560.4V2554.3H1867.3V2560.4ZM1867.3 2560.4V2556.8H1879.7V2560.4ZM1879.7 2560.4V2558.4H1892.1V2560.4ZM1892.1 2560.4V2559.3H1904.5V2560.4Z" fill="none" stroke="#e8232b" stroke-width="2.9" stroke-linejoin="miter"/>
<line x1="1282.9" y1="2560.4" x2="1930.5" y2="2560.4" stroke="#4a0d14" stroke-width="2.4" stroke-opacity="0.85"/>
<line x1="1532.1" y1="2417.2" x2="1532.1" y2="2561.9" stroke="#363636" stroke-width="3.2" stroke-linecap="butt"/>
<text x="1281.1" y="2365.4" font-size="30" fill="#2e3192" textLength="204.0" lengthAdjust="spacingAndGlyphs">mean <tspan font-family='"Liberation Serif", "DejaVu Serif", serif' font-size="27">&#916;</tspan> = -33.6</text>
<text x="1519.9" y="2365.4" font-size="30" fill="#2e3192" textLength="283.1" lengthAdjust="spacingAndGlyphs">95%CI [-312.6 238.5]</text>
<text x="1822.5" y="2365.4" font-size="30" fill="#2e3192" textLength="289.3" lengthAdjust="spacingAndGlyphs">% below zero= 59.4%</text>
<text x="1282.3" y="2403.8" font-size="30" fill="#e8232b" textLength="211.4" lengthAdjust="spacingAndGlyphs">mean <tspan font-family='"Liberation Serif", "DejaVu Serif", serif' font-size="27">&#916;</tspan> = 359.9</text>
<text x="1519.9" y="2403.8" font-size="30" fill="#e8232b" textLength="274.0" lengthAdjust="spacingAndGlyphs">95%CI [134.0 612.9]</text>
<text x="1820.1" y="2403.8" font-size="30" fill="#e8232b" textLength="282.6" lengthAdjust="spacingAndGlyphs">% below zero=0.04%</text>
<text x="1833.4" y="2528.5" font-size="39" fill="#e8232b" text-anchor="middle" stroke="#e8232b" stroke-width="0.9" letter-spacing="0.6">***</text>
</g>
</g>
</svg>
</body>
</html>
